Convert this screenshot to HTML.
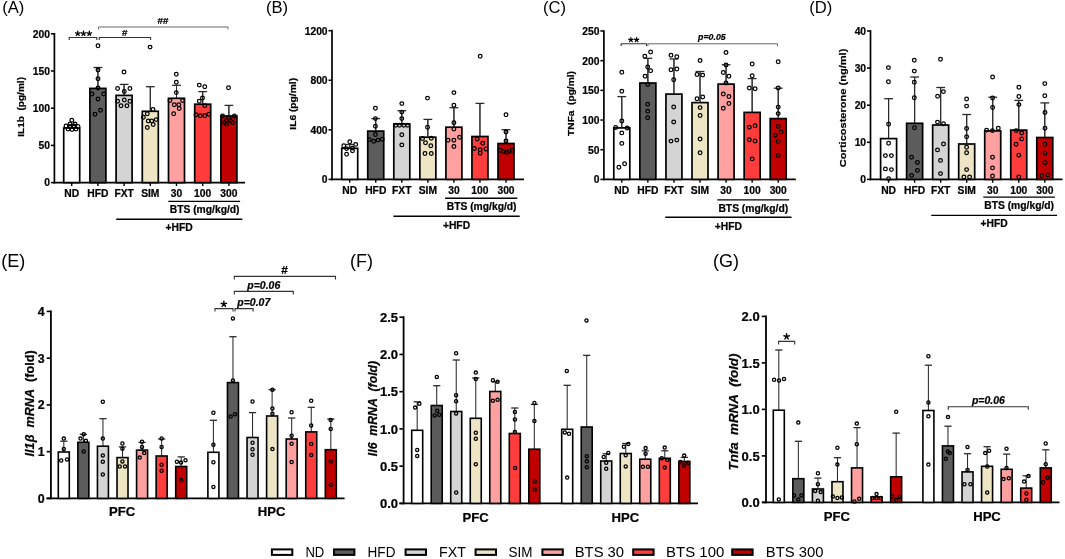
<!DOCTYPE html>
<html><head><meta charset="utf-8"><style>
html,body{margin:0;padding:0;background:#fff;overflow:hidden;}
svg{display:block;will-change:transform;filter:blur(0.3px);}
text{font-family:"Liberation Sans", sans-serif;}
text[font-weight="bold"]{stroke:#000;stroke-width:0.22px;}
</style></head><body>
<svg width="1065" height="559" viewBox="0 0 1065 559">
<rect width="1065" height="559" fill="#fff"/>
<text transform="translate(2.20 13.00) scale(1.06 1)" font-size="15.7" font-weight="normal" text-anchor="start" font-style="normal" fill="#000" >(A)</text>
<line x1="54.40" y1="183.45" x2="54.40" y2="32.95" stroke="#000" stroke-width="1.7"/>
<line x1="50.90" y1="182.60" x2="54.40" y2="182.60" stroke="#000" stroke-width="1.53"/>
<text transform="translate(50.00 186.46)" font-size="10.3" font-weight="bold" text-anchor="end" font-style="normal" fill="#000" >0</text>
<line x1="50.90" y1="145.40" x2="54.40" y2="145.40" stroke="#000" stroke-width="1.53"/>
<text transform="translate(50.00 149.26)" font-size="10.3" font-weight="bold" text-anchor="end" font-style="normal" fill="#000" >50</text>
<line x1="50.90" y1="108.20" x2="54.40" y2="108.20" stroke="#000" stroke-width="1.53"/>
<text transform="translate(50.00 112.06)" font-size="10.3" font-weight="bold" text-anchor="end" font-style="normal" fill="#000" >100</text>
<line x1="50.90" y1="71.00" x2="54.40" y2="71.00" stroke="#000" stroke-width="1.53"/>
<text transform="translate(50.00 74.86)" font-size="10.3" font-weight="bold" text-anchor="end" font-style="normal" fill="#000" >150</text>
<line x1="50.90" y1="33.80" x2="54.40" y2="33.80" stroke="#000" stroke-width="1.53"/>
<text transform="translate(50.00 37.66)" font-size="10.3" font-weight="bold" text-anchor="end" font-style="normal" fill="#000" >200</text>
<line x1="53.55" y1="182.60" x2="245.00" y2="182.60" stroke="#000" stroke-width="1.7"/>
<line x1="71.70" y1="182.60" x2="71.70" y2="186.00" stroke="#000" stroke-width="1.4"/>
<line x1="71.70" y1="128.00" x2="71.70" y2="125.20" stroke="#2a2a2a" stroke-width="1.05"/>
<line x1="67.30" y1="125.20" x2="76.10" y2="125.20" stroke="#2a2a2a" stroke-width="1.3"/>
<rect x="63.70" y="128.00" width="16.00" height="54.60" fill="#ffffff" stroke="#000" stroke-width="1.7"/>
<line x1="71.70" y1="127.20" x2="71.70" y2="125.20" stroke="#2a2a2a" stroke-width="1.05"/>
<line x1="97.90" y1="182.60" x2="97.90" y2="186.00" stroke="#000" stroke-width="1.4"/>
<line x1="97.90" y1="88.40" x2="97.90" y2="67.50" stroke="#2a2a2a" stroke-width="1.05"/>
<line x1="93.50" y1="67.50" x2="102.30" y2="67.50" stroke="#2a2a2a" stroke-width="1.3"/>
<rect x="89.90" y="88.40" width="16.00" height="94.20" fill="#5c5c5c" stroke="#000" stroke-width="1.7"/>
<line x1="97.90" y1="87.60" x2="97.90" y2="67.50" stroke="#2a2a2a" stroke-width="1.05"/>
<line x1="124.10" y1="182.60" x2="124.10" y2="186.00" stroke="#000" stroke-width="1.4"/>
<line x1="124.10" y1="95.40" x2="124.10" y2="84.40" stroke="#2a2a2a" stroke-width="1.05"/>
<line x1="119.70" y1="84.40" x2="128.50" y2="84.40" stroke="#2a2a2a" stroke-width="1.3"/>
<rect x="116.10" y="95.40" width="16.00" height="87.20" fill="#d4d4d4" stroke="#000" stroke-width="1.7"/>
<line x1="124.10" y1="94.60" x2="124.10" y2="84.40" stroke="#2a2a2a" stroke-width="1.05"/>
<line x1="150.30" y1="182.60" x2="150.30" y2="186.00" stroke="#000" stroke-width="1.4"/>
<line x1="150.30" y1="111.30" x2="150.30" y2="86.70" stroke="#2a2a2a" stroke-width="1.05"/>
<line x1="145.90" y1="86.70" x2="154.70" y2="86.70" stroke="#2a2a2a" stroke-width="1.3"/>
<rect x="142.30" y="111.30" width="16.00" height="71.30" fill="#eee5c5" stroke="#000" stroke-width="1.7"/>
<line x1="150.30" y1="110.50" x2="150.30" y2="86.70" stroke="#2a2a2a" stroke-width="1.05"/>
<line x1="176.50" y1="182.60" x2="176.50" y2="186.00" stroke="#000" stroke-width="1.4"/>
<line x1="176.50" y1="98.30" x2="176.50" y2="85.30" stroke="#2a2a2a" stroke-width="1.05"/>
<line x1="172.10" y1="85.30" x2="180.90" y2="85.30" stroke="#2a2a2a" stroke-width="1.3"/>
<rect x="168.50" y="98.30" width="16.00" height="84.30" fill="#ffa0a0" stroke="#000" stroke-width="1.7"/>
<line x1="176.50" y1="97.50" x2="176.50" y2="85.30" stroke="#2a2a2a" stroke-width="1.05"/>
<line x1="202.70" y1="182.60" x2="202.70" y2="186.00" stroke="#000" stroke-width="1.4"/>
<line x1="202.70" y1="104.20" x2="202.70" y2="91.60" stroke="#2a2a2a" stroke-width="1.05"/>
<line x1="198.30" y1="91.60" x2="207.10" y2="91.60" stroke="#2a2a2a" stroke-width="1.3"/>
<rect x="194.70" y="104.20" width="16.00" height="78.40" fill="#ff3d3d" stroke="#000" stroke-width="1.7"/>
<line x1="202.70" y1="103.40" x2="202.70" y2="91.60" stroke="#2a2a2a" stroke-width="1.05"/>
<line x1="228.90" y1="182.60" x2="228.90" y2="186.00" stroke="#000" stroke-width="1.4"/>
<line x1="228.90" y1="116.00" x2="228.90" y2="105.40" stroke="#2a2a2a" stroke-width="1.05"/>
<line x1="224.50" y1="105.40" x2="233.30" y2="105.40" stroke="#2a2a2a" stroke-width="1.3"/>
<rect x="220.90" y="116.00" width="16.00" height="66.60" fill="#c00000" stroke="#000" stroke-width="1.7"/>
<line x1="228.90" y1="115.20" x2="228.90" y2="105.40" stroke="#2a2a2a" stroke-width="1.05"/>
<circle cx="71.80" cy="120.20" r="1.85" fill="none" stroke="#000" stroke-width="1.25"/>
<circle cx="66.00" cy="126.00" r="1.85" fill="none" stroke="#000" stroke-width="1.25"/>
<circle cx="70.00" cy="126.50" r="1.85" fill="none" stroke="#000" stroke-width="1.25"/>
<circle cx="74.00" cy="126.00" r="1.85" fill="none" stroke="#000" stroke-width="1.25"/>
<circle cx="78.00" cy="126.50" r="1.85" fill="none" stroke="#000" stroke-width="1.25"/>
<circle cx="68.00" cy="129.00" r="1.85" fill="none" stroke="#000" stroke-width="1.25"/>
<circle cx="72.00" cy="129.50" r="1.85" fill="none" stroke="#000" stroke-width="1.25"/>
<circle cx="76.00" cy="129.00" r="1.85" fill="none" stroke="#000" stroke-width="1.25"/>
<circle cx="70.00" cy="124.00" r="1.85" fill="none" stroke="#000" stroke-width="1.25"/>
<circle cx="75.00" cy="124.00" r="1.85" fill="none" stroke="#000" stroke-width="1.25"/>
<circle cx="98.00" cy="45.70" r="1.85" fill="none" stroke="#000" stroke-width="1.25"/>
<circle cx="98.00" cy="70.00" r="1.85" fill="none" stroke="#000" stroke-width="1.25"/>
<circle cx="98.00" cy="78.80" r="1.85" fill="none" stroke="#000" stroke-width="1.25"/>
<circle cx="98.00" cy="88.00" r="1.85" fill="none" stroke="#000" stroke-width="1.25"/>
<circle cx="91.90" cy="94.00" r="1.85" fill="none" stroke="#000" stroke-width="1.25"/>
<circle cx="103.70" cy="94.00" r="1.85" fill="none" stroke="#000" stroke-width="1.25"/>
<circle cx="98.00" cy="98.90" r="1.85" fill="none" stroke="#000" stroke-width="1.25"/>
<circle cx="100.50" cy="110.30" r="1.85" fill="none" stroke="#000" stroke-width="1.25"/>
<circle cx="95.00" cy="114.30" r="1.85" fill="none" stroke="#000" stroke-width="1.25"/>
<circle cx="124.00" cy="72.00" r="1.85" fill="none" stroke="#000" stroke-width="1.25"/>
<circle cx="117.60" cy="88.50" r="1.85" fill="none" stroke="#000" stroke-width="1.25"/>
<circle cx="124.30" cy="91.40" r="1.85" fill="none" stroke="#000" stroke-width="1.25"/>
<circle cx="129.90" cy="88.50" r="1.85" fill="none" stroke="#000" stroke-width="1.25"/>
<circle cx="117.60" cy="101.30" r="1.85" fill="none" stroke="#000" stroke-width="1.25"/>
<circle cx="124.30" cy="99.90" r="1.85" fill="none" stroke="#000" stroke-width="1.25"/>
<circle cx="129.90" cy="101.30" r="1.85" fill="none" stroke="#000" stroke-width="1.25"/>
<circle cx="121.00" cy="105.80" r="1.85" fill="none" stroke="#000" stroke-width="1.25"/>
<circle cx="126.90" cy="105.80" r="1.85" fill="none" stroke="#000" stroke-width="1.25"/>
<circle cx="150.10" cy="47.10" r="1.85" fill="none" stroke="#000" stroke-width="1.25"/>
<circle cx="153.00" cy="109.40" r="1.85" fill="none" stroke="#000" stroke-width="1.25"/>
<circle cx="147.30" cy="113.70" r="1.85" fill="none" stroke="#000" stroke-width="1.25"/>
<circle cx="143.40" cy="117.20" r="1.85" fill="none" stroke="#000" stroke-width="1.25"/>
<circle cx="148.30" cy="121.00" r="1.85" fill="none" stroke="#000" stroke-width="1.25"/>
<circle cx="151.70" cy="121.00" r="1.85" fill="none" stroke="#000" stroke-width="1.25"/>
<circle cx="156.20" cy="119.60" r="1.85" fill="none" stroke="#000" stroke-width="1.25"/>
<circle cx="153.20" cy="124.50" r="1.85" fill="none" stroke="#000" stroke-width="1.25"/>
<circle cx="147.30" cy="127.50" r="1.85" fill="none" stroke="#000" stroke-width="1.25"/>
<circle cx="176.30" cy="74.30" r="1.85" fill="none" stroke="#000" stroke-width="1.25"/>
<circle cx="176.30" cy="82.20" r="1.85" fill="none" stroke="#000" stroke-width="1.25"/>
<circle cx="176.30" cy="92.60" r="1.85" fill="none" stroke="#000" stroke-width="1.25"/>
<circle cx="170.00" cy="100.50" r="1.85" fill="none" stroke="#000" stroke-width="1.25"/>
<circle cx="182.60" cy="100.50" r="1.85" fill="none" stroke="#000" stroke-width="1.25"/>
<circle cx="174.30" cy="104.80" r="1.85" fill="none" stroke="#000" stroke-width="1.25"/>
<circle cx="178.80" cy="104.80" r="1.85" fill="none" stroke="#000" stroke-width="1.25"/>
<circle cx="179.20" cy="108.40" r="1.85" fill="none" stroke="#000" stroke-width="1.25"/>
<circle cx="173.70" cy="113.70" r="1.85" fill="none" stroke="#000" stroke-width="1.25"/>
<circle cx="199.30" cy="85.10" r="1.85" fill="none" stroke="#000" stroke-width="1.25"/>
<circle cx="204.80" cy="86.70" r="1.85" fill="none" stroke="#000" stroke-width="1.25"/>
<circle cx="202.50" cy="97.90" r="1.85" fill="none" stroke="#000" stroke-width="1.25"/>
<circle cx="199.30" cy="101.30" r="1.85" fill="none" stroke="#000" stroke-width="1.25"/>
<circle cx="204.80" cy="105.80" r="1.85" fill="none" stroke="#000" stroke-width="1.25"/>
<circle cx="196.00" cy="114.70" r="1.85" fill="none" stroke="#000" stroke-width="1.25"/>
<circle cx="200.30" cy="115.70" r="1.85" fill="none" stroke="#000" stroke-width="1.25"/>
<circle cx="204.80" cy="115.70" r="1.85" fill="none" stroke="#000" stroke-width="1.25"/>
<circle cx="208.80" cy="114.30" r="1.85" fill="none" stroke="#000" stroke-width="1.25"/>
<circle cx="228.50" cy="87.70" r="1.85" fill="none" stroke="#000" stroke-width="1.25"/>
<circle cx="222.60" cy="116.00" r="1.85" fill="none" stroke="#000" stroke-width="1.25"/>
<circle cx="234.40" cy="116.00" r="1.85" fill="none" stroke="#000" stroke-width="1.25"/>
<circle cx="226.50" cy="120.60" r="1.85" fill="none" stroke="#000" stroke-width="1.25"/>
<circle cx="230.40" cy="120.60" r="1.85" fill="none" stroke="#000" stroke-width="1.25"/>
<circle cx="224.50" cy="122.60" r="1.85" fill="none" stroke="#000" stroke-width="1.25"/>
<circle cx="232.40" cy="122.60" r="1.85" fill="none" stroke="#000" stroke-width="1.25"/>
<circle cx="226.50" cy="124.10" r="1.85" fill="none" stroke="#000" stroke-width="1.25"/>
<circle cx="229.00" cy="118.00" r="1.85" fill="none" stroke="#000" stroke-width="1.25"/>
<text transform="translate(71.70 197.40)" font-size="10.3" font-weight="bold" text-anchor="middle" font-style="normal" fill="#000" >ND</text>
<text transform="translate(97.90 197.40)" font-size="10.3" font-weight="bold" text-anchor="middle" font-style="normal" fill="#000" >HFD</text>
<text transform="translate(124.10 197.40)" font-size="10.3" font-weight="bold" text-anchor="middle" font-style="normal" fill="#000" >FXT</text>
<text transform="translate(150.30 197.40)" font-size="10.3" font-weight="bold" text-anchor="middle" font-style="normal" fill="#000" >SIM</text>
<text transform="translate(176.50 197.40)" font-size="10.3" font-weight="bold" text-anchor="middle" font-style="normal" fill="#000" >30</text>
<text transform="translate(202.70 197.40)" font-size="10.3" font-weight="bold" text-anchor="middle" font-style="normal" fill="#000" >100</text>
<text transform="translate(228.90 197.40)" font-size="10.3" font-weight="bold" text-anchor="middle" font-style="normal" fill="#000" >300</text>
<line x1="168.30" y1="201.40" x2="240.10" y2="201.40" stroke="#000" stroke-width="1.4"/>
<text transform="translate(204.60 213.40)" font-size="10.3" font-weight="bold" text-anchor="middle" font-style="normal" fill="#000" >BTS (mg/kg/d)</text>
<line x1="116.20" y1="219.20" x2="242.30" y2="219.20" stroke="#000" stroke-width="1.4"/>
<text transform="translate(179.20 231.30)" font-size="10.3" font-weight="bold" text-anchor="middle" font-style="normal" fill="#000" >+HFD</text>
<text transform="translate(24.30 106.90) rotate(-90) scale(1.06 1)" font-size="9.8" font-weight="bold" text-anchor="middle" font-style="normal" fill="#000" textLength="56.42" lengthAdjust="spacingAndGlyphs" >IL1b&#160;&#160;(pg/ml)</text>
<path d="M69.20,39.90 V37.50 H96.80 V39.90" fill="none" stroke="#333" stroke-width="1.1"/>
<path d="M99.30,39.90 V37.50 H150.60 V39.90" fill="none" stroke="#333" stroke-width="1.1"/>
<path d="M98.50,29.40 V27.00 H228.00 V29.40" fill="none" stroke="#666" stroke-width="1.0"/>
<path d="M77.80,33.50 L77.80,31.15 M77.80,33.50 L80.03,32.77 M77.80,33.50 L79.18,35.40 M77.80,33.50 L76.42,35.40 M77.80,33.50 L75.57,32.77 " fill="none" stroke="#000" stroke-width="1.3" stroke-linecap="round"/>
<path d="M83.50,33.50 L83.50,31.15 M83.50,33.50 L85.73,32.77 M83.50,33.50 L84.88,35.40 M83.50,33.50 L82.12,35.40 M83.50,33.50 L81.27,32.77 " fill="none" stroke="#000" stroke-width="1.3" stroke-linecap="round"/>
<path d="M89.30,33.50 L89.30,31.15 M89.30,33.50 L91.53,32.77 M89.30,33.50 L90.68,35.40 M89.30,33.50 L87.92,35.40 M89.30,33.50 L87.07,32.77 " fill="none" stroke="#000" stroke-width="1.3" stroke-linecap="round"/>
<text transform="translate(124.60 36.10) scale(1.06 1)" font-size="9.2" font-weight="bold" text-anchor="middle" font-style="normal" fill="#000" >#</text>
<text transform="translate(163.00 24.30) scale(1.06 1)" font-size="9.2" font-weight="bold" text-anchor="middle" font-style="normal" fill="#000" >##</text>
<text transform="translate(266.00 13.00) scale(1.06 1)" font-size="15.7" font-weight="normal" text-anchor="start" font-style="normal" fill="#000" >(B)</text>
<line x1="332.00" y1="180.25" x2="332.00" y2="29.85" stroke="#000" stroke-width="1.7"/>
<line x1="328.50" y1="179.40" x2="332.00" y2="179.40" stroke="#000" stroke-width="1.53"/>
<text transform="translate(327.60 183.26)" font-size="10.3" font-weight="bold" text-anchor="end" font-style="normal" fill="#000" >0</text>
<line x1="328.50" y1="129.83" x2="332.00" y2="129.83" stroke="#000" stroke-width="1.53"/>
<text transform="translate(327.60 133.69)" font-size="10.3" font-weight="bold" text-anchor="end" font-style="normal" fill="#000" >400</text>
<line x1="328.50" y1="80.27" x2="332.00" y2="80.27" stroke="#000" stroke-width="1.53"/>
<text transform="translate(327.60 84.12)" font-size="10.3" font-weight="bold" text-anchor="end" font-style="normal" fill="#000" >800</text>
<line x1="328.50" y1="30.70" x2="332.00" y2="30.70" stroke="#000" stroke-width="1.53"/>
<text transform="translate(327.60 34.56)" font-size="10.3" font-weight="bold" text-anchor="end" font-style="normal" fill="#000" >1200</text>
<line x1="331.15" y1="179.40" x2="524.00" y2="179.40" stroke="#000" stroke-width="1.7"/>
<line x1="349.70" y1="179.40" x2="349.70" y2="182.80" stroke="#000" stroke-width="1.4"/>
<line x1="349.70" y1="148.30" x2="349.70" y2="144.50" stroke="#2a2a2a" stroke-width="1.05"/>
<line x1="345.30" y1="144.50" x2="354.10" y2="144.50" stroke="#2a2a2a" stroke-width="1.3"/>
<rect x="341.70" y="148.30" width="16.00" height="31.10" fill="#ffffff" stroke="#000" stroke-width="1.7"/>
<line x1="349.70" y1="147.50" x2="349.70" y2="144.50" stroke="#2a2a2a" stroke-width="1.05"/>
<line x1="375.75" y1="179.40" x2="375.75" y2="182.80" stroke="#000" stroke-width="1.4"/>
<line x1="375.75" y1="131.10" x2="375.75" y2="118.60" stroke="#2a2a2a" stroke-width="1.05"/>
<line x1="371.35" y1="118.60" x2="380.15" y2="118.60" stroke="#2a2a2a" stroke-width="1.3"/>
<rect x="367.75" y="131.10" width="16.00" height="48.30" fill="#5c5c5c" stroke="#000" stroke-width="1.7"/>
<line x1="375.75" y1="130.30" x2="375.75" y2="118.60" stroke="#2a2a2a" stroke-width="1.05"/>
<line x1="401.80" y1="179.40" x2="401.80" y2="182.80" stroke="#000" stroke-width="1.4"/>
<line x1="401.80" y1="124.00" x2="401.80" y2="110.70" stroke="#2a2a2a" stroke-width="1.05"/>
<line x1="397.40" y1="110.70" x2="406.20" y2="110.70" stroke="#2a2a2a" stroke-width="1.3"/>
<rect x="393.80" y="124.00" width="16.00" height="55.40" fill="#d4d4d4" stroke="#000" stroke-width="1.7"/>
<line x1="401.80" y1="123.20" x2="401.80" y2="110.70" stroke="#2a2a2a" stroke-width="1.05"/>
<line x1="427.85" y1="179.40" x2="427.85" y2="182.80" stroke="#000" stroke-width="1.4"/>
<line x1="427.85" y1="137.20" x2="427.85" y2="119.40" stroke="#2a2a2a" stroke-width="1.05"/>
<line x1="423.45" y1="119.40" x2="432.25" y2="119.40" stroke="#2a2a2a" stroke-width="1.3"/>
<rect x="419.85" y="137.20" width="16.00" height="42.20" fill="#eee5c5" stroke="#000" stroke-width="1.7"/>
<line x1="427.85" y1="136.40" x2="427.85" y2="119.40" stroke="#2a2a2a" stroke-width="1.05"/>
<line x1="453.90" y1="179.40" x2="453.90" y2="182.80" stroke="#000" stroke-width="1.4"/>
<line x1="453.90" y1="127.20" x2="453.90" y2="107.70" stroke="#2a2a2a" stroke-width="1.05"/>
<line x1="449.50" y1="107.70" x2="458.30" y2="107.70" stroke="#2a2a2a" stroke-width="1.3"/>
<rect x="445.90" y="127.20" width="16.00" height="52.20" fill="#ffa0a0" stroke="#000" stroke-width="1.7"/>
<line x1="453.90" y1="126.40" x2="453.90" y2="107.70" stroke="#2a2a2a" stroke-width="1.05"/>
<line x1="479.95" y1="179.40" x2="479.95" y2="182.80" stroke="#000" stroke-width="1.4"/>
<line x1="479.95" y1="136.50" x2="479.95" y2="103.40" stroke="#2a2a2a" stroke-width="1.05"/>
<line x1="475.55" y1="103.40" x2="484.35" y2="103.40" stroke="#2a2a2a" stroke-width="1.3"/>
<rect x="471.95" y="136.50" width="16.00" height="42.90" fill="#ff3d3d" stroke="#000" stroke-width="1.7"/>
<line x1="479.95" y1="135.70" x2="479.95" y2="103.40" stroke="#2a2a2a" stroke-width="1.05"/>
<line x1="506.00" y1="179.40" x2="506.00" y2="182.80" stroke="#000" stroke-width="1.4"/>
<line x1="506.00" y1="143.50" x2="506.00" y2="129.70" stroke="#2a2a2a" stroke-width="1.05"/>
<line x1="501.60" y1="129.70" x2="510.40" y2="129.70" stroke="#2a2a2a" stroke-width="1.3"/>
<rect x="498.00" y="143.50" width="16.00" height="35.90" fill="#c00000" stroke="#000" stroke-width="1.7"/>
<line x1="506.00" y1="142.70" x2="506.00" y2="129.70" stroke="#2a2a2a" stroke-width="1.05"/>
<circle cx="349.80" cy="141.80" r="1.85" fill="none" stroke="#000" stroke-width="1.25"/>
<circle cx="343.80" cy="145.70" r="1.85" fill="none" stroke="#000" stroke-width="1.25"/>
<circle cx="355.70" cy="144.40" r="1.85" fill="none" stroke="#000" stroke-width="1.25"/>
<circle cx="346.60" cy="148.60" r="1.85" fill="none" stroke="#000" stroke-width="1.25"/>
<circle cx="352.50" cy="148.10" r="1.85" fill="none" stroke="#000" stroke-width="1.25"/>
<circle cx="352.50" cy="150.70" r="1.85" fill="none" stroke="#000" stroke-width="1.25"/>
<circle cx="346.60" cy="154.20" r="1.85" fill="none" stroke="#000" stroke-width="1.25"/>
<circle cx="375.40" cy="108.20" r="1.85" fill="none" stroke="#000" stroke-width="1.25"/>
<circle cx="375.40" cy="118.60" r="1.85" fill="none" stroke="#000" stroke-width="1.25"/>
<circle cx="375.40" cy="126.20" r="1.85" fill="none" stroke="#000" stroke-width="1.25"/>
<circle cx="375.40" cy="134.50" r="1.85" fill="none" stroke="#000" stroke-width="1.25"/>
<circle cx="369.30" cy="139.60" r="1.85" fill="none" stroke="#000" stroke-width="1.25"/>
<circle cx="373.70" cy="141.30" r="1.85" fill="none" stroke="#000" stroke-width="1.25"/>
<circle cx="378.00" cy="140.10" r="1.85" fill="none" stroke="#000" stroke-width="1.25"/>
<circle cx="382.20" cy="139.30" r="1.85" fill="none" stroke="#000" stroke-width="1.25"/>
<circle cx="401.80" cy="103.60" r="1.85" fill="none" stroke="#000" stroke-width="1.25"/>
<circle cx="401.80" cy="112.10" r="1.85" fill="none" stroke="#000" stroke-width="1.25"/>
<circle cx="401.80" cy="118.60" r="1.85" fill="none" stroke="#000" stroke-width="1.25"/>
<circle cx="395.70" cy="125.30" r="1.85" fill="none" stroke="#000" stroke-width="1.25"/>
<circle cx="403.80" cy="125.30" r="1.85" fill="none" stroke="#000" stroke-width="1.25"/>
<circle cx="407.70" cy="125.30" r="1.85" fill="none" stroke="#000" stroke-width="1.25"/>
<circle cx="399.50" cy="125.30" r="1.85" fill="none" stroke="#000" stroke-width="1.25"/>
<circle cx="401.80" cy="134.70" r="1.85" fill="none" stroke="#000" stroke-width="1.25"/>
<circle cx="401.80" cy="144.90" r="1.85" fill="none" stroke="#000" stroke-width="1.25"/>
<circle cx="427.50" cy="98.10" r="1.85" fill="none" stroke="#000" stroke-width="1.25"/>
<circle cx="427.50" cy="127.20" r="1.85" fill="none" stroke="#000" stroke-width="1.25"/>
<circle cx="422.50" cy="138.50" r="1.85" fill="none" stroke="#000" stroke-width="1.25"/>
<circle cx="431.30" cy="138.20" r="1.85" fill="none" stroke="#000" stroke-width="1.25"/>
<circle cx="425.50" cy="142.70" r="1.85" fill="none" stroke="#000" stroke-width="1.25"/>
<circle cx="430.80" cy="145.80" r="1.85" fill="none" stroke="#000" stroke-width="1.25"/>
<circle cx="425.00" cy="153.50" r="1.85" fill="none" stroke="#000" stroke-width="1.25"/>
<circle cx="431.30" cy="153.50" r="1.85" fill="none" stroke="#000" stroke-width="1.25"/>
<circle cx="453.90" cy="92.60" r="1.85" fill="none" stroke="#000" stroke-width="1.25"/>
<circle cx="453.90" cy="105.20" r="1.85" fill="none" stroke="#000" stroke-width="1.25"/>
<circle cx="453.90" cy="122.70" r="1.85" fill="none" stroke="#000" stroke-width="1.25"/>
<circle cx="453.90" cy="129.00" r="1.85" fill="none" stroke="#000" stroke-width="1.25"/>
<circle cx="448.10" cy="140.20" r="1.85" fill="none" stroke="#000" stroke-width="1.25"/>
<circle cx="453.90" cy="140.20" r="1.85" fill="none" stroke="#000" stroke-width="1.25"/>
<circle cx="459.60" cy="137.20" r="1.85" fill="none" stroke="#000" stroke-width="1.25"/>
<circle cx="453.90" cy="146.50" r="1.85" fill="none" stroke="#000" stroke-width="1.25"/>
<circle cx="480.20" cy="56.30" r="1.85" fill="none" stroke="#000" stroke-width="1.25"/>
<circle cx="477.20" cy="139.00" r="1.85" fill="none" stroke="#000" stroke-width="1.25"/>
<circle cx="482.70" cy="143.20" r="1.85" fill="none" stroke="#000" stroke-width="1.25"/>
<circle cx="474.40" cy="148.50" r="1.85" fill="none" stroke="#000" stroke-width="1.25"/>
<circle cx="480.20" cy="149.80" r="1.85" fill="none" stroke="#000" stroke-width="1.25"/>
<circle cx="485.90" cy="149.00" r="1.85" fill="none" stroke="#000" stroke-width="1.25"/>
<circle cx="480.20" cy="153.30" r="1.85" fill="none" stroke="#000" stroke-width="1.25"/>
<circle cx="506.00" cy="114.70" r="1.85" fill="none" stroke="#000" stroke-width="1.25"/>
<circle cx="506.00" cy="132.00" r="1.85" fill="none" stroke="#000" stroke-width="1.25"/>
<circle cx="506.00" cy="141.00" r="1.85" fill="none" stroke="#000" stroke-width="1.25"/>
<circle cx="500.20" cy="150.30" r="1.85" fill="none" stroke="#000" stroke-width="1.25"/>
<circle cx="503.50" cy="151.50" r="1.85" fill="none" stroke="#000" stroke-width="1.25"/>
<circle cx="509.00" cy="151.50" r="1.85" fill="none" stroke="#000" stroke-width="1.25"/>
<circle cx="512.30" cy="150.30" r="1.85" fill="none" stroke="#000" stroke-width="1.25"/>
<circle cx="506.50" cy="152.30" r="1.85" fill="none" stroke="#000" stroke-width="1.25"/>
<text transform="translate(349.70 194.30)" font-size="10.3" font-weight="bold" text-anchor="middle" font-style="normal" fill="#000" >ND</text>
<text transform="translate(375.75 194.30)" font-size="10.3" font-weight="bold" text-anchor="middle" font-style="normal" fill="#000" >HFD</text>
<text transform="translate(401.80 194.30)" font-size="10.3" font-weight="bold" text-anchor="middle" font-style="normal" fill="#000" >FXT</text>
<text transform="translate(427.85 194.30)" font-size="10.3" font-weight="bold" text-anchor="middle" font-style="normal" fill="#000" >SIM</text>
<text transform="translate(453.90 194.30)" font-size="10.3" font-weight="bold" text-anchor="middle" font-style="normal" fill="#000" >30</text>
<text transform="translate(479.95 194.30)" font-size="10.3" font-weight="bold" text-anchor="middle" font-style="normal" fill="#000" >100</text>
<text transform="translate(506.00 194.30)" font-size="10.3" font-weight="bold" text-anchor="middle" font-style="normal" fill="#000" >300</text>
<line x1="445.10" y1="198.30" x2="517.30" y2="198.30" stroke="#000" stroke-width="1.4"/>
<text transform="translate(481.60 210.30)" font-size="10.3" font-weight="bold" text-anchor="middle" font-style="normal" fill="#000" >BTS (mg/kg/d)</text>
<line x1="393.40" y1="216.20" x2="519.70" y2="216.20" stroke="#000" stroke-width="1.4"/>
<text transform="translate(456.50 228.50)" font-size="10.3" font-weight="bold" text-anchor="middle" font-style="normal" fill="#000" >+HFD</text>
<text transform="translate(296.40 103.80) rotate(-90) scale(1.06 1)" font-size="9.8" font-weight="bold" text-anchor="middle" font-style="normal" fill="#000" textLength="48.77" lengthAdjust="spacingAndGlyphs" >IL6 (pg/ml)</text>
<text transform="translate(543.00 13.00) scale(1.06 1)" font-size="15.7" font-weight="normal" text-anchor="start" font-style="normal" fill="#000" >(C)</text>
<line x1="603.90" y1="180.25" x2="603.90" y2="30.15" stroke="#000" stroke-width="1.7"/>
<line x1="600.40" y1="179.40" x2="603.90" y2="179.40" stroke="#000" stroke-width="1.53"/>
<text transform="translate(599.50 183.26)" font-size="10.3" font-weight="bold" text-anchor="end" font-style="normal" fill="#000" >0</text>
<line x1="600.40" y1="149.72" x2="603.90" y2="149.72" stroke="#000" stroke-width="1.53"/>
<text transform="translate(599.50 153.58)" font-size="10.3" font-weight="bold" text-anchor="end" font-style="normal" fill="#000" >50</text>
<line x1="600.40" y1="120.04" x2="603.90" y2="120.04" stroke="#000" stroke-width="1.53"/>
<text transform="translate(599.50 123.90)" font-size="10.3" font-weight="bold" text-anchor="end" font-style="normal" fill="#000" >100</text>
<line x1="600.40" y1="90.36" x2="603.90" y2="90.36" stroke="#000" stroke-width="1.53"/>
<text transform="translate(599.50 94.22)" font-size="10.3" font-weight="bold" text-anchor="end" font-style="normal" fill="#000" >150</text>
<line x1="600.40" y1="60.68" x2="603.90" y2="60.68" stroke="#000" stroke-width="1.53"/>
<text transform="translate(599.50 64.54)" font-size="10.3" font-weight="bold" text-anchor="end" font-style="normal" fill="#000" >200</text>
<line x1="600.40" y1="31.00" x2="603.90" y2="31.00" stroke="#000" stroke-width="1.53"/>
<text transform="translate(599.50 34.86)" font-size="10.3" font-weight="bold" text-anchor="end" font-style="normal" fill="#000" >250</text>
<line x1="603.05" y1="179.40" x2="795.80" y2="179.40" stroke="#000" stroke-width="1.7"/>
<line x1="621.80" y1="179.40" x2="621.80" y2="182.80" stroke="#000" stroke-width="1.4"/>
<line x1="621.80" y1="127.90" x2="621.80" y2="96.60" stroke="#2a2a2a" stroke-width="1.05"/>
<line x1="617.40" y1="96.60" x2="626.20" y2="96.60" stroke="#2a2a2a" stroke-width="1.3"/>
<rect x="613.80" y="127.90" width="16.00" height="51.50" fill="#ffffff" stroke="#000" stroke-width="1.7"/>
<line x1="621.80" y1="127.10" x2="621.80" y2="96.60" stroke="#2a2a2a" stroke-width="1.05"/>
<line x1="647.87" y1="179.40" x2="647.87" y2="182.80" stroke="#000" stroke-width="1.4"/>
<line x1="647.87" y1="83.00" x2="647.87" y2="58.30" stroke="#2a2a2a" stroke-width="1.05"/>
<line x1="643.47" y1="58.30" x2="652.27" y2="58.30" stroke="#2a2a2a" stroke-width="1.3"/>
<rect x="639.87" y="83.00" width="16.00" height="96.40" fill="#5c5c5c" stroke="#000" stroke-width="1.7"/>
<line x1="647.87" y1="82.20" x2="647.87" y2="58.30" stroke="#2a2a2a" stroke-width="1.05"/>
<line x1="673.94" y1="179.40" x2="673.94" y2="182.80" stroke="#000" stroke-width="1.4"/>
<line x1="673.94" y1="94.10" x2="673.94" y2="59.00" stroke="#2a2a2a" stroke-width="1.05"/>
<line x1="669.54" y1="59.00" x2="678.34" y2="59.00" stroke="#2a2a2a" stroke-width="1.3"/>
<rect x="665.94" y="94.10" width="16.00" height="85.30" fill="#d4d4d4" stroke="#000" stroke-width="1.7"/>
<line x1="673.94" y1="93.30" x2="673.94" y2="59.00" stroke="#2a2a2a" stroke-width="1.05"/>
<line x1="700.01" y1="179.40" x2="700.01" y2="182.80" stroke="#000" stroke-width="1.4"/>
<line x1="700.01" y1="102.60" x2="700.01" y2="71.50" stroke="#2a2a2a" stroke-width="1.05"/>
<line x1="695.61" y1="71.50" x2="704.41" y2="71.50" stroke="#2a2a2a" stroke-width="1.3"/>
<rect x="692.01" y="102.60" width="16.00" height="76.80" fill="#eee5c5" stroke="#000" stroke-width="1.7"/>
<line x1="700.01" y1="101.80" x2="700.01" y2="71.50" stroke="#2a2a2a" stroke-width="1.05"/>
<line x1="726.08" y1="179.40" x2="726.08" y2="182.80" stroke="#000" stroke-width="1.4"/>
<line x1="726.08" y1="84.10" x2="726.08" y2="64.80" stroke="#2a2a2a" stroke-width="1.05"/>
<line x1="721.68" y1="64.80" x2="730.48" y2="64.80" stroke="#2a2a2a" stroke-width="1.3"/>
<rect x="718.08" y="84.10" width="16.00" height="95.30" fill="#ffa0a0" stroke="#000" stroke-width="1.7"/>
<line x1="726.08" y1="83.30" x2="726.08" y2="64.80" stroke="#2a2a2a" stroke-width="1.05"/>
<line x1="752.15" y1="179.40" x2="752.15" y2="182.80" stroke="#000" stroke-width="1.4"/>
<line x1="752.15" y1="112.40" x2="752.15" y2="78.60" stroke="#2a2a2a" stroke-width="1.05"/>
<line x1="747.75" y1="78.60" x2="756.55" y2="78.60" stroke="#2a2a2a" stroke-width="1.3"/>
<rect x="744.15" y="112.40" width="16.00" height="67.00" fill="#ff3d3d" stroke="#000" stroke-width="1.7"/>
<line x1="752.15" y1="111.60" x2="752.15" y2="78.60" stroke="#2a2a2a" stroke-width="1.05"/>
<line x1="778.22" y1="179.40" x2="778.22" y2="182.80" stroke="#000" stroke-width="1.4"/>
<line x1="778.22" y1="118.60" x2="778.22" y2="88.20" stroke="#2a2a2a" stroke-width="1.05"/>
<line x1="773.82" y1="88.20" x2="782.62" y2="88.20" stroke="#2a2a2a" stroke-width="1.3"/>
<rect x="770.22" y="118.60" width="16.00" height="60.80" fill="#c00000" stroke="#000" stroke-width="1.7"/>
<line x1="778.22" y1="117.80" x2="778.22" y2="88.20" stroke="#2a2a2a" stroke-width="1.05"/>
<circle cx="621.80" cy="72.20" r="1.85" fill="none" stroke="#000" stroke-width="1.25"/>
<circle cx="621.80" cy="91.30" r="1.85" fill="none" stroke="#000" stroke-width="1.25"/>
<circle cx="621.80" cy="120.90" r="1.85" fill="none" stroke="#000" stroke-width="1.25"/>
<circle cx="615.70" cy="127.50" r="1.85" fill="none" stroke="#000" stroke-width="1.25"/>
<circle cx="627.20" cy="127.90" r="1.85" fill="none" stroke="#000" stroke-width="1.25"/>
<circle cx="621.80" cy="132.90" r="1.85" fill="none" stroke="#000" stroke-width="1.25"/>
<circle cx="621.80" cy="143.40" r="1.85" fill="none" stroke="#000" stroke-width="1.25"/>
<circle cx="624.60" cy="163.70" r="1.85" fill="none" stroke="#000" stroke-width="1.25"/>
<circle cx="618.90" cy="167.30" r="1.85" fill="none" stroke="#000" stroke-width="1.25"/>
<circle cx="650.60" cy="51.90" r="1.85" fill="none" stroke="#000" stroke-width="1.25"/>
<circle cx="644.80" cy="56.20" r="1.85" fill="none" stroke="#000" stroke-width="1.25"/>
<circle cx="647.70" cy="66.90" r="1.85" fill="none" stroke="#000" stroke-width="1.25"/>
<circle cx="650.60" cy="70.80" r="1.85" fill="none" stroke="#000" stroke-width="1.25"/>
<circle cx="645.10" cy="76.20" r="1.85" fill="none" stroke="#000" stroke-width="1.25"/>
<circle cx="647.70" cy="84.40" r="1.85" fill="none" stroke="#000" stroke-width="1.25"/>
<circle cx="647.70" cy="104.20" r="1.85" fill="none" stroke="#000" stroke-width="1.25"/>
<circle cx="647.70" cy="111.20" r="1.85" fill="none" stroke="#000" stroke-width="1.25"/>
<circle cx="647.70" cy="117.80" r="1.85" fill="none" stroke="#000" stroke-width="1.25"/>
<circle cx="671.00" cy="55.30" r="1.85" fill="none" stroke="#000" stroke-width="1.25"/>
<circle cx="676.80" cy="56.70" r="1.85" fill="none" stroke="#000" stroke-width="1.25"/>
<circle cx="671.00" cy="69.80" r="1.85" fill="none" stroke="#000" stroke-width="1.25"/>
<circle cx="676.80" cy="68.90" r="1.85" fill="none" stroke="#000" stroke-width="1.25"/>
<circle cx="673.70" cy="79.80" r="1.85" fill="none" stroke="#000" stroke-width="1.25"/>
<circle cx="673.70" cy="106.90" r="1.85" fill="none" stroke="#000" stroke-width="1.25"/>
<circle cx="673.70" cy="121.90" r="1.85" fill="none" stroke="#000" stroke-width="1.25"/>
<circle cx="671.00" cy="141.10" r="1.85" fill="none" stroke="#000" stroke-width="1.25"/>
<circle cx="676.80" cy="140.10" r="1.85" fill="none" stroke="#000" stroke-width="1.25"/>
<circle cx="700.10" cy="60.50" r="1.85" fill="none" stroke="#000" stroke-width="1.25"/>
<circle cx="697.00" cy="74.40" r="1.85" fill="none" stroke="#000" stroke-width="1.25"/>
<circle cx="702.70" cy="75.10" r="1.85" fill="none" stroke="#000" stroke-width="1.25"/>
<circle cx="697.00" cy="98.70" r="1.85" fill="none" stroke="#000" stroke-width="1.25"/>
<circle cx="702.70" cy="96.90" r="1.85" fill="none" stroke="#000" stroke-width="1.25"/>
<circle cx="700.10" cy="107.60" r="1.85" fill="none" stroke="#000" stroke-width="1.25"/>
<circle cx="700.10" cy="115.50" r="1.85" fill="none" stroke="#000" stroke-width="1.25"/>
<circle cx="700.10" cy="139.00" r="1.85" fill="none" stroke="#000" stroke-width="1.25"/>
<circle cx="700.10" cy="152.70" r="1.85" fill="none" stroke="#000" stroke-width="1.25"/>
<circle cx="726.00" cy="52.50" r="1.85" fill="none" stroke="#000" stroke-width="1.25"/>
<circle cx="726.00" cy="65.00" r="1.85" fill="none" stroke="#000" stroke-width="1.25"/>
<circle cx="723.30" cy="72.50" r="1.85" fill="none" stroke="#000" stroke-width="1.25"/>
<circle cx="728.90" cy="76.20" r="1.85" fill="none" stroke="#000" stroke-width="1.25"/>
<circle cx="726.00" cy="82.90" r="1.85" fill="none" stroke="#000" stroke-width="1.25"/>
<circle cx="723.30" cy="94.00" r="1.85" fill="none" stroke="#000" stroke-width="1.25"/>
<circle cx="728.90" cy="96.50" r="1.85" fill="none" stroke="#000" stroke-width="1.25"/>
<circle cx="728.90" cy="103.40" r="1.85" fill="none" stroke="#000" stroke-width="1.25"/>
<circle cx="723.30" cy="108.30" r="1.85" fill="none" stroke="#000" stroke-width="1.25"/>
<circle cx="752.20" cy="63.90" r="1.85" fill="none" stroke="#000" stroke-width="1.25"/>
<circle cx="752.20" cy="75.80" r="1.85" fill="none" stroke="#000" stroke-width="1.25"/>
<circle cx="749.30" cy="87.90" r="1.85" fill="none" stroke="#000" stroke-width="1.25"/>
<circle cx="755.10" cy="88.70" r="1.85" fill="none" stroke="#000" stroke-width="1.25"/>
<circle cx="749.30" cy="127.20" r="1.85" fill="none" stroke="#000" stroke-width="1.25"/>
<circle cx="755.10" cy="125.70" r="1.85" fill="none" stroke="#000" stroke-width="1.25"/>
<circle cx="749.30" cy="139.80" r="1.85" fill="none" stroke="#000" stroke-width="1.25"/>
<circle cx="755.10" cy="141.00" r="1.85" fill="none" stroke="#000" stroke-width="1.25"/>
<circle cx="752.20" cy="158.90" r="1.85" fill="none" stroke="#000" stroke-width="1.25"/>
<circle cx="778.20" cy="61.80" r="1.85" fill="none" stroke="#000" stroke-width="1.25"/>
<circle cx="778.20" cy="87.90" r="1.85" fill="none" stroke="#000" stroke-width="1.25"/>
<circle cx="778.20" cy="107.10" r="1.85" fill="none" stroke="#000" stroke-width="1.25"/>
<circle cx="778.20" cy="113.60" r="1.85" fill="none" stroke="#000" stroke-width="1.25"/>
<circle cx="778.20" cy="126.50" r="1.85" fill="none" stroke="#000" stroke-width="1.25"/>
<circle cx="781.10" cy="131.90" r="1.85" fill="none" stroke="#000" stroke-width="1.25"/>
<circle cx="775.40" cy="135.30" r="1.85" fill="none" stroke="#000" stroke-width="1.25"/>
<circle cx="778.20" cy="141.50" r="1.85" fill="none" stroke="#000" stroke-width="1.25"/>
<circle cx="778.20" cy="155.40" r="1.85" fill="none" stroke="#000" stroke-width="1.25"/>
<text transform="translate(621.80 194.20)" font-size="10.3" font-weight="bold" text-anchor="middle" font-style="normal" fill="#000" >ND</text>
<text transform="translate(647.87 194.20)" font-size="10.3" font-weight="bold" text-anchor="middle" font-style="normal" fill="#000" >HFD</text>
<text transform="translate(673.94 194.20)" font-size="10.3" font-weight="bold" text-anchor="middle" font-style="normal" fill="#000" >FXT</text>
<text transform="translate(700.01 194.20)" font-size="10.3" font-weight="bold" text-anchor="middle" font-style="normal" fill="#000" >SIM</text>
<text transform="translate(726.08 194.20)" font-size="10.3" font-weight="bold" text-anchor="middle" font-style="normal" fill="#000" >30</text>
<text transform="translate(752.15 194.20)" font-size="10.3" font-weight="bold" text-anchor="middle" font-style="normal" fill="#000" >100</text>
<text transform="translate(778.22 194.20)" font-size="10.3" font-weight="bold" text-anchor="middle" font-style="normal" fill="#000" >300</text>
<line x1="717.30" y1="199.90" x2="789.20" y2="199.90" stroke="#000" stroke-width="1.4"/>
<text transform="translate(753.30 212.20)" font-size="10.3" font-weight="bold" text-anchor="middle" font-style="normal" fill="#000" >BTS (mg/kg/d)</text>
<line x1="665.20" y1="217.30" x2="791.50" y2="217.30" stroke="#000" stroke-width="1.4"/>
<text transform="translate(728.40 230.20)" font-size="10.3" font-weight="bold" text-anchor="middle" font-style="normal" fill="#000" >+HFD</text>
<text transform="translate(574.30 103.50) rotate(-90) scale(1.06 1)" font-size="9.8" font-weight="bold" text-anchor="middle" font-style="normal" fill="#000" textLength="61.13" lengthAdjust="spacingAndGlyphs" >TNFa&#160;&#160;(pg/ml)</text>
<path d="M621.20,46.10 V43.80 H646.60 V46.10" fill="none" stroke="#333" stroke-width="1.1"/>
<path d="M647.90,46.10 V43.80 H777.50 V46.10" fill="none" stroke="#666" stroke-width="1.0"/>
<path d="M630.90,39.80 L630.90,37.50 M630.90,39.80 L633.09,39.09 M630.90,39.80 L632.25,41.66 M630.90,39.80 L629.55,41.66 M630.90,39.80 L628.71,39.09 " fill="none" stroke="#000" stroke-width="1.25" stroke-linecap="round"/>
<path d="M636.60,39.80 L636.60,37.50 M636.60,39.80 L638.79,39.09 M636.60,39.80 L637.95,41.66 M636.60,39.80 L635.25,41.66 M636.60,39.80 L634.41,39.09 " fill="none" stroke="#000" stroke-width="1.25" stroke-linecap="round"/>
<text transform="translate(711.90 40.00) scale(1.06 1)" font-size="8.3" font-weight="bold" text-anchor="middle" font-style="italic" fill="#000" >p=0.05</text>
<text transform="translate(809.30 13.00) scale(1.06 1)" font-size="15.7" font-weight="normal" text-anchor="start" font-style="normal" fill="#000" >(D)</text>
<line x1="870.50" y1="180.25" x2="870.50" y2="30.15" stroke="#000" stroke-width="1.7"/>
<line x1="867.00" y1="179.40" x2="870.50" y2="179.40" stroke="#000" stroke-width="1.53"/>
<text transform="translate(866.10 183.26)" font-size="10.3" font-weight="bold" text-anchor="end" font-style="normal" fill="#000" >0</text>
<line x1="867.00" y1="142.30" x2="870.50" y2="142.30" stroke="#000" stroke-width="1.53"/>
<text transform="translate(866.10 146.16)" font-size="10.3" font-weight="bold" text-anchor="end" font-style="normal" fill="#000" >10</text>
<line x1="867.00" y1="105.20" x2="870.50" y2="105.20" stroke="#000" stroke-width="1.53"/>
<text transform="translate(866.10 109.06)" font-size="10.3" font-weight="bold" text-anchor="end" font-style="normal" fill="#000" >20</text>
<line x1="867.00" y1="68.10" x2="870.50" y2="68.10" stroke="#000" stroke-width="1.53"/>
<text transform="translate(866.10 71.96)" font-size="10.3" font-weight="bold" text-anchor="end" font-style="normal" fill="#000" >30</text>
<line x1="867.00" y1="31.00" x2="870.50" y2="31.00" stroke="#000" stroke-width="1.53"/>
<text transform="translate(866.10 34.86)" font-size="10.3" font-weight="bold" text-anchor="end" font-style="normal" fill="#000" >40</text>
<line x1="869.65" y1="179.40" x2="1062.50" y2="179.40" stroke="#000" stroke-width="1.7"/>
<line x1="888.60" y1="179.40" x2="888.60" y2="182.80" stroke="#000" stroke-width="1.4"/>
<line x1="888.60" y1="138.60" x2="888.60" y2="98.70" stroke="#2a2a2a" stroke-width="1.05"/>
<line x1="884.20" y1="98.70" x2="893.00" y2="98.70" stroke="#2a2a2a" stroke-width="1.3"/>
<rect x="880.60" y="138.60" width="16.00" height="40.80" fill="#ffffff" stroke="#000" stroke-width="1.7"/>
<line x1="888.60" y1="137.80" x2="888.60" y2="98.70" stroke="#2a2a2a" stroke-width="1.05"/>
<line x1="914.63" y1="179.40" x2="914.63" y2="182.80" stroke="#000" stroke-width="1.4"/>
<line x1="914.63" y1="123.30" x2="914.63" y2="77.00" stroke="#2a2a2a" stroke-width="1.05"/>
<line x1="910.23" y1="77.00" x2="919.03" y2="77.00" stroke="#2a2a2a" stroke-width="1.3"/>
<rect x="906.63" y="123.30" width="16.00" height="56.10" fill="#5c5c5c" stroke="#000" stroke-width="1.7"/>
<line x1="914.63" y1="122.50" x2="914.63" y2="77.00" stroke="#2a2a2a" stroke-width="1.05"/>
<line x1="940.66" y1="179.40" x2="940.66" y2="182.80" stroke="#000" stroke-width="1.4"/>
<line x1="940.66" y1="125.00" x2="940.66" y2="87.50" stroke="#2a2a2a" stroke-width="1.05"/>
<line x1="936.26" y1="87.50" x2="945.06" y2="87.50" stroke="#2a2a2a" stroke-width="1.3"/>
<rect x="932.66" y="125.00" width="16.00" height="54.40" fill="#d4d4d4" stroke="#000" stroke-width="1.7"/>
<line x1="940.66" y1="124.20" x2="940.66" y2="87.50" stroke="#2a2a2a" stroke-width="1.05"/>
<line x1="966.69" y1="179.40" x2="966.69" y2="182.80" stroke="#000" stroke-width="1.4"/>
<line x1="966.69" y1="144.00" x2="966.69" y2="114.50" stroke="#2a2a2a" stroke-width="1.05"/>
<line x1="962.29" y1="114.50" x2="971.09" y2="114.50" stroke="#2a2a2a" stroke-width="1.3"/>
<rect x="958.69" y="144.00" width="16.00" height="35.40" fill="#eee5c5" stroke="#000" stroke-width="1.7"/>
<line x1="966.69" y1="143.20" x2="966.69" y2="114.50" stroke="#2a2a2a" stroke-width="1.05"/>
<line x1="992.72" y1="179.40" x2="992.72" y2="182.80" stroke="#000" stroke-width="1.4"/>
<line x1="992.72" y1="130.90" x2="992.72" y2="97.20" stroke="#2a2a2a" stroke-width="1.05"/>
<line x1="988.32" y1="97.20" x2="997.12" y2="97.20" stroke="#2a2a2a" stroke-width="1.3"/>
<rect x="984.72" y="130.90" width="16.00" height="48.50" fill="#ffa0a0" stroke="#000" stroke-width="1.7"/>
<line x1="992.72" y1="130.10" x2="992.72" y2="97.20" stroke="#2a2a2a" stroke-width="1.05"/>
<line x1="1018.75" y1="179.40" x2="1018.75" y2="182.80" stroke="#000" stroke-width="1.4"/>
<line x1="1018.75" y1="130.10" x2="1018.75" y2="100.40" stroke="#2a2a2a" stroke-width="1.05"/>
<line x1="1014.35" y1="100.40" x2="1023.15" y2="100.40" stroke="#2a2a2a" stroke-width="1.3"/>
<rect x="1010.75" y="130.10" width="16.00" height="49.30" fill="#ff3d3d" stroke="#000" stroke-width="1.7"/>
<line x1="1018.75" y1="129.30" x2="1018.75" y2="100.40" stroke="#2a2a2a" stroke-width="1.05"/>
<line x1="1044.78" y1="179.40" x2="1044.78" y2="182.80" stroke="#000" stroke-width="1.4"/>
<line x1="1044.78" y1="137.50" x2="1044.78" y2="102.90" stroke="#2a2a2a" stroke-width="1.05"/>
<line x1="1040.38" y1="102.90" x2="1049.18" y2="102.90" stroke="#2a2a2a" stroke-width="1.3"/>
<rect x="1036.78" y="137.50" width="16.00" height="41.90" fill="#c00000" stroke="#000" stroke-width="1.7"/>
<line x1="1044.78" y1="136.70" x2="1044.78" y2="102.90" stroke="#2a2a2a" stroke-width="1.05"/>
<circle cx="888.40" cy="67.60" r="1.85" fill="none" stroke="#000" stroke-width="1.25"/>
<circle cx="888.40" cy="81.80" r="1.85" fill="none" stroke="#000" stroke-width="1.25"/>
<circle cx="888.60" cy="124.20" r="1.85" fill="none" stroke="#000" stroke-width="1.25"/>
<circle cx="888.60" cy="143.20" r="1.85" fill="none" stroke="#000" stroke-width="1.25"/>
<circle cx="885.40" cy="155.60" r="1.85" fill="none" stroke="#000" stroke-width="1.25"/>
<circle cx="891.40" cy="155.60" r="1.85" fill="none" stroke="#000" stroke-width="1.25"/>
<circle cx="885.40" cy="168.90" r="1.85" fill="none" stroke="#000" stroke-width="1.25"/>
<circle cx="891.40" cy="169.60" r="1.85" fill="none" stroke="#000" stroke-width="1.25"/>
<circle cx="888.60" cy="178.60" r="1.85" fill="none" stroke="#000" stroke-width="1.25"/>
<circle cx="914.30" cy="60.30" r="1.85" fill="none" stroke="#000" stroke-width="1.25"/>
<circle cx="914.30" cy="71.10" r="1.85" fill="none" stroke="#000" stroke-width="1.25"/>
<circle cx="914.30" cy="82.20" r="1.85" fill="none" stroke="#000" stroke-width="1.25"/>
<circle cx="914.30" cy="97.70" r="1.85" fill="none" stroke="#000" stroke-width="1.25"/>
<circle cx="914.50" cy="127.70" r="1.85" fill="none" stroke="#000" stroke-width="1.25"/>
<circle cx="911.60" cy="157.20" r="1.85" fill="none" stroke="#000" stroke-width="1.25"/>
<circle cx="917.40" cy="162.50" r="1.85" fill="none" stroke="#000" stroke-width="1.25"/>
<circle cx="917.40" cy="170.40" r="1.85" fill="none" stroke="#000" stroke-width="1.25"/>
<circle cx="911.60" cy="175.40" r="1.85" fill="none" stroke="#000" stroke-width="1.25"/>
<circle cx="940.50" cy="59.30" r="1.85" fill="none" stroke="#000" stroke-width="1.25"/>
<circle cx="943.40" cy="91.60" r="1.85" fill="none" stroke="#000" stroke-width="1.25"/>
<circle cx="937.60" cy="96.30" r="1.85" fill="none" stroke="#000" stroke-width="1.25"/>
<circle cx="937.50" cy="122.10" r="1.85" fill="none" stroke="#000" stroke-width="1.25"/>
<circle cx="943.50" cy="123.80" r="1.85" fill="none" stroke="#000" stroke-width="1.25"/>
<circle cx="943.50" cy="144.00" r="1.85" fill="none" stroke="#000" stroke-width="1.25"/>
<circle cx="937.50" cy="149.90" r="1.85" fill="none" stroke="#000" stroke-width="1.25"/>
<circle cx="940.50" cy="160.40" r="1.85" fill="none" stroke="#000" stroke-width="1.25"/>
<circle cx="940.50" cy="173.60" r="1.85" fill="none" stroke="#000" stroke-width="1.25"/>
<circle cx="966.60" cy="99.00" r="1.85" fill="none" stroke="#000" stroke-width="1.25"/>
<circle cx="966.60" cy="106.10" r="1.85" fill="none" stroke="#000" stroke-width="1.25"/>
<circle cx="966.60" cy="128.50" r="1.85" fill="none" stroke="#000" stroke-width="1.25"/>
<circle cx="966.60" cy="136.70" r="1.85" fill="none" stroke="#000" stroke-width="1.25"/>
<circle cx="966.60" cy="147.20" r="1.85" fill="none" stroke="#000" stroke-width="1.25"/>
<circle cx="966.60" cy="152.80" r="1.85" fill="none" stroke="#000" stroke-width="1.25"/>
<circle cx="966.60" cy="169.60" r="1.85" fill="none" stroke="#000" stroke-width="1.25"/>
<circle cx="963.90" cy="177.00" r="1.85" fill="none" stroke="#000" stroke-width="1.25"/>
<circle cx="969.60" cy="177.00" r="1.85" fill="none" stroke="#000" stroke-width="1.25"/>
<circle cx="992.60" cy="76.90" r="1.85" fill="none" stroke="#000" stroke-width="1.25"/>
<circle cx="992.60" cy="98.00" r="1.85" fill="none" stroke="#000" stroke-width="1.25"/>
<circle cx="992.60" cy="107.50" r="1.85" fill="none" stroke="#000" stroke-width="1.25"/>
<circle cx="986.60" cy="130.10" r="1.85" fill="none" stroke="#000" stroke-width="1.25"/>
<circle cx="992.40" cy="130.60" r="1.85" fill="none" stroke="#000" stroke-width="1.25"/>
<circle cx="998.30" cy="128.20" r="1.85" fill="none" stroke="#000" stroke-width="1.25"/>
<circle cx="992.50" cy="157.20" r="1.85" fill="none" stroke="#000" stroke-width="1.25"/>
<circle cx="992.50" cy="167.90" r="1.85" fill="none" stroke="#000" stroke-width="1.25"/>
<circle cx="992.50" cy="176.00" r="1.85" fill="none" stroke="#000" stroke-width="1.25"/>
<circle cx="1018.90" cy="87.20" r="1.85" fill="none" stroke="#000" stroke-width="1.25"/>
<circle cx="1018.90" cy="96.50" r="1.85" fill="none" stroke="#000" stroke-width="1.25"/>
<circle cx="1018.90" cy="104.60" r="1.85" fill="none" stroke="#000" stroke-width="1.25"/>
<circle cx="1016.10" cy="130.60" r="1.85" fill="none" stroke="#000" stroke-width="1.25"/>
<circle cx="1021.70" cy="133.00" r="1.85" fill="none" stroke="#000" stroke-width="1.25"/>
<circle cx="1021.70" cy="139.00" r="1.85" fill="none" stroke="#000" stroke-width="1.25"/>
<circle cx="1016.10" cy="144.30" r="1.85" fill="none" stroke="#000" stroke-width="1.25"/>
<circle cx="1018.80" cy="155.20" r="1.85" fill="none" stroke="#000" stroke-width="1.25"/>
<circle cx="1018.80" cy="177.00" r="1.85" fill="none" stroke="#000" stroke-width="1.25"/>
<circle cx="1044.80" cy="83.60" r="1.85" fill="none" stroke="#000" stroke-width="1.25"/>
<circle cx="1044.80" cy="95.80" r="1.85" fill="none" stroke="#000" stroke-width="1.25"/>
<circle cx="1045.00" cy="112.40" r="1.85" fill="none" stroke="#000" stroke-width="1.25"/>
<circle cx="1045.00" cy="128.20" r="1.85" fill="none" stroke="#000" stroke-width="1.25"/>
<circle cx="1045.00" cy="144.30" r="1.85" fill="none" stroke="#000" stroke-width="1.25"/>
<circle cx="1045.00" cy="153.10" r="1.85" fill="none" stroke="#000" stroke-width="1.25"/>
<circle cx="1045.00" cy="162.80" r="1.85" fill="none" stroke="#000" stroke-width="1.25"/>
<circle cx="1041.80" cy="175.70" r="1.85" fill="none" stroke="#000" stroke-width="1.25"/>
<circle cx="1047.80" cy="174.90" r="1.85" fill="none" stroke="#000" stroke-width="1.25"/>
<text transform="translate(888.60 194.20)" font-size="10.3" font-weight="bold" text-anchor="middle" font-style="normal" fill="#000" >ND</text>
<text transform="translate(914.63 194.20)" font-size="10.3" font-weight="bold" text-anchor="middle" font-style="normal" fill="#000" >HFD</text>
<text transform="translate(940.66 194.20)" font-size="10.3" font-weight="bold" text-anchor="middle" font-style="normal" fill="#000" >FXT</text>
<text transform="translate(966.69 194.20)" font-size="10.3" font-weight="bold" text-anchor="middle" font-style="normal" fill="#000" >SIM</text>
<text transform="translate(992.72 194.20)" font-size="10.3" font-weight="bold" text-anchor="middle" font-style="normal" fill="#000" >30</text>
<text transform="translate(1018.75 194.20)" font-size="10.3" font-weight="bold" text-anchor="middle" font-style="normal" fill="#000" >100</text>
<text transform="translate(1044.78 194.20)" font-size="10.3" font-weight="bold" text-anchor="middle" font-style="normal" fill="#000" >300</text>
<line x1="983.30" y1="197.10" x2="1054.90" y2="197.10" stroke="#000" stroke-width="1.4"/>
<text transform="translate(1019.10 209.40)" font-size="10.3" font-weight="bold" text-anchor="middle" font-style="normal" fill="#000" >BTS (mg/kg/d)</text>
<line x1="931.20" y1="215.40" x2="1057.00" y2="215.40" stroke="#000" stroke-width="1.4"/>
<text transform="translate(994.10 227.40)" font-size="10.3" font-weight="bold" text-anchor="middle" font-style="normal" fill="#000" >+HFD</text>
<text transform="translate(846.40 107.90) rotate(-90) scale(1.06 1)" font-size="9.8" font-weight="bold" text-anchor="middle" font-style="normal" fill="#000" textLength="111.79" lengthAdjust="spacingAndGlyphs" >Corticosterone (ng/ml)</text>
<text transform="translate(1.20 266.90)" font-size="18" font-weight="normal" text-anchor="start" font-style="normal" fill="#000" >(E)</text>
<line x1="50.90" y1="499.30" x2="50.90" y2="310.50" stroke="#000" stroke-width="1.8"/>
<line x1="46.70" y1="498.40" x2="50.90" y2="498.40" stroke="#000" stroke-width="1.62"/>
<text transform="translate(44.60 502.80)" font-size="12.4" font-weight="bold" text-anchor="end" font-style="normal" fill="#000" >0</text>
<line x1="46.70" y1="451.65" x2="50.90" y2="451.65" stroke="#000" stroke-width="1.62"/>
<text transform="translate(44.60 456.05)" font-size="12.4" font-weight="bold" text-anchor="end" font-style="normal" fill="#000" >1</text>
<line x1="46.70" y1="404.90" x2="50.90" y2="404.90" stroke="#000" stroke-width="1.62"/>
<text transform="translate(44.60 409.30)" font-size="12.4" font-weight="bold" text-anchor="end" font-style="normal" fill="#000" >2</text>
<line x1="46.70" y1="358.15" x2="50.90" y2="358.15" stroke="#000" stroke-width="1.62"/>
<text transform="translate(44.60 362.55)" font-size="12.4" font-weight="bold" text-anchor="end" font-style="normal" fill="#000" >3</text>
<line x1="46.70" y1="311.40" x2="50.90" y2="311.40" stroke="#000" stroke-width="1.62"/>
<text transform="translate(44.60 315.80)" font-size="12.4" font-weight="bold" text-anchor="end" font-style="normal" fill="#000" >4</text>
<line x1="46.50" y1="498.40" x2="344.60" y2="498.40" stroke="#000" stroke-width="1.8"/>
<line x1="63.80" y1="452.00" x2="63.80" y2="441.20" stroke="#2a2a2a" stroke-width="1.05"/>
<line x1="60.20" y1="441.20" x2="67.40" y2="441.20" stroke="#2a2a2a" stroke-width="1.3"/>
<rect x="58.30" y="452.00" width="11.00" height="46.40" fill="#ffffff" stroke="#000" stroke-width="1.6"/>
<line x1="83.37" y1="442.30" x2="83.37" y2="434.30" stroke="#2a2a2a" stroke-width="1.05"/>
<line x1="79.77" y1="434.30" x2="86.97" y2="434.30" stroke="#2a2a2a" stroke-width="1.3"/>
<rect x="77.87" y="442.30" width="11.00" height="56.10" fill="#5c5c5c" stroke="#000" stroke-width="1.6"/>
<line x1="102.94" y1="446.20" x2="102.94" y2="418.70" stroke="#2a2a2a" stroke-width="1.05"/>
<line x1="99.34" y1="418.70" x2="106.54" y2="418.70" stroke="#2a2a2a" stroke-width="1.3"/>
<rect x="97.44" y="446.20" width="11.00" height="52.20" fill="#d4d4d4" stroke="#000" stroke-width="1.6"/>
<line x1="122.51" y1="457.60" x2="122.51" y2="446.90" stroke="#2a2a2a" stroke-width="1.05"/>
<line x1="118.91" y1="446.90" x2="126.11" y2="446.90" stroke="#2a2a2a" stroke-width="1.3"/>
<rect x="117.01" y="457.60" width="11.00" height="40.80" fill="#eee5c5" stroke="#000" stroke-width="1.6"/>
<line x1="142.08" y1="450.10" x2="142.08" y2="442.40" stroke="#2a2a2a" stroke-width="1.05"/>
<line x1="138.48" y1="442.40" x2="145.68" y2="442.40" stroke="#2a2a2a" stroke-width="1.3"/>
<rect x="136.58" y="450.10" width="11.00" height="48.30" fill="#ffa0a0" stroke="#000" stroke-width="1.6"/>
<line x1="161.65" y1="456.00" x2="161.65" y2="439.00" stroke="#2a2a2a" stroke-width="1.05"/>
<line x1="158.05" y1="439.00" x2="165.25" y2="439.00" stroke="#2a2a2a" stroke-width="1.3"/>
<rect x="156.15" y="456.00" width="11.00" height="42.40" fill="#ff3d3d" stroke="#000" stroke-width="1.6"/>
<line x1="181.22" y1="466.50" x2="181.22" y2="456.90" stroke="#2a2a2a" stroke-width="1.05"/>
<line x1="177.62" y1="456.90" x2="184.82" y2="456.90" stroke="#2a2a2a" stroke-width="1.3"/>
<rect x="175.72" y="466.50" width="11.00" height="31.90" fill="#c00000" stroke="#000" stroke-width="1.6"/>
<line x1="213.40" y1="452.30" x2="213.40" y2="420.30" stroke="#2a2a2a" stroke-width="1.05"/>
<line x1="209.80" y1="420.30" x2="217.00" y2="420.30" stroke="#2a2a2a" stroke-width="1.3"/>
<rect x="207.90" y="452.30" width="11.00" height="46.10" fill="#ffffff" stroke="#000" stroke-width="1.6"/>
<line x1="232.97" y1="382.60" x2="232.97" y2="336.70" stroke="#2a2a2a" stroke-width="1.05"/>
<line x1="229.37" y1="336.70" x2="236.57" y2="336.70" stroke="#2a2a2a" stroke-width="1.3"/>
<rect x="227.47" y="382.60" width="11.00" height="115.80" fill="#5c5c5c" stroke="#000" stroke-width="1.6"/>
<line x1="252.54" y1="437.50" x2="252.54" y2="412.60" stroke="#2a2a2a" stroke-width="1.05"/>
<line x1="248.94" y1="412.60" x2="256.14" y2="412.60" stroke="#2a2a2a" stroke-width="1.3"/>
<rect x="247.04" y="437.50" width="11.00" height="60.90" fill="#d4d4d4" stroke="#000" stroke-width="1.6"/>
<line x1="272.11" y1="416.00" x2="272.11" y2="389.70" stroke="#2a2a2a" stroke-width="1.05"/>
<line x1="268.51" y1="389.70" x2="275.71" y2="389.70" stroke="#2a2a2a" stroke-width="1.3"/>
<rect x="266.61" y="416.00" width="11.00" height="82.40" fill="#eee5c5" stroke="#000" stroke-width="1.6"/>
<line x1="291.68" y1="439.00" x2="291.68" y2="418.00" stroke="#2a2a2a" stroke-width="1.05"/>
<line x1="288.08" y1="418.00" x2="295.28" y2="418.00" stroke="#2a2a2a" stroke-width="1.3"/>
<rect x="286.18" y="439.00" width="11.00" height="59.40" fill="#ffa0a0" stroke="#000" stroke-width="1.6"/>
<line x1="311.25" y1="431.90" x2="311.25" y2="407.30" stroke="#2a2a2a" stroke-width="1.05"/>
<line x1="307.65" y1="407.30" x2="314.85" y2="407.30" stroke="#2a2a2a" stroke-width="1.3"/>
<rect x="305.75" y="431.90" width="11.00" height="66.50" fill="#ff3d3d" stroke="#000" stroke-width="1.6"/>
<line x1="330.82" y1="449.70" x2="330.82" y2="419.10" stroke="#2a2a2a" stroke-width="1.05"/>
<line x1="327.22" y1="419.10" x2="334.42" y2="419.10" stroke="#2a2a2a" stroke-width="1.3"/>
<rect x="325.32" y="449.70" width="11.00" height="48.70" fill="#c00000" stroke="#000" stroke-width="1.6"/>
<circle cx="63.80" cy="438.60" r="1.6" fill="none" stroke="#000" stroke-width="1.3"/>
<circle cx="63.80" cy="448.90" r="1.6" fill="none" stroke="#000" stroke-width="1.3"/>
<circle cx="61.20" cy="460.50" r="1.6" fill="none" stroke="#000" stroke-width="1.3"/>
<circle cx="67.00" cy="459.50" r="1.6" fill="none" stroke="#000" stroke-width="1.3"/>
<circle cx="83.70" cy="434.30" r="1.6" fill="none" stroke="#000" stroke-width="1.3"/>
<circle cx="80.50" cy="438.60" r="1.6" fill="none" stroke="#000" stroke-width="1.3"/>
<circle cx="85.90" cy="440.80" r="1.6" fill="none" stroke="#000" stroke-width="1.3"/>
<circle cx="83.70" cy="451.50" r="1.6" fill="none" stroke="#000" stroke-width="1.3"/>
<circle cx="102.80" cy="401.70" r="1.6" fill="none" stroke="#000" stroke-width="1.3"/>
<circle cx="102.80" cy="438.60" r="1.6" fill="none" stroke="#000" stroke-width="1.3"/>
<circle cx="102.80" cy="455.40" r="1.6" fill="none" stroke="#000" stroke-width="1.3"/>
<circle cx="102.80" cy="461.80" r="1.6" fill="none" stroke="#000" stroke-width="1.3"/>
<circle cx="102.80" cy="474.50" r="1.6" fill="none" stroke="#000" stroke-width="1.3"/>
<circle cx="122.40" cy="443.50" r="1.6" fill="none" stroke="#000" stroke-width="1.3"/>
<circle cx="122.40" cy="448.70" r="1.6" fill="none" stroke="#000" stroke-width="1.3"/>
<circle cx="122.40" cy="461.40" r="1.6" fill="none" stroke="#000" stroke-width="1.3"/>
<circle cx="119.70" cy="466.50" r="1.6" fill="none" stroke="#000" stroke-width="1.3"/>
<circle cx="125.00" cy="466.50" r="1.6" fill="none" stroke="#000" stroke-width="1.3"/>
<circle cx="142.00" cy="441.70" r="1.6" fill="none" stroke="#000" stroke-width="1.3"/>
<circle cx="142.00" cy="446.90" r="1.6" fill="none" stroke="#000" stroke-width="1.3"/>
<circle cx="144.20" cy="453.10" r="1.6" fill="none" stroke="#000" stroke-width="1.3"/>
<circle cx="139.70" cy="457.60" r="1.6" fill="none" stroke="#000" stroke-width="1.3"/>
<circle cx="161.60" cy="438.50" r="1.6" fill="none" stroke="#000" stroke-width="1.3"/>
<circle cx="161.60" cy="446.90" r="1.6" fill="none" stroke="#000" stroke-width="1.3"/>
<circle cx="161.60" cy="464.80" r="1.6" fill="none" stroke="#000" stroke-width="1.3"/>
<circle cx="161.60" cy="470.70" r="1.6" fill="none" stroke="#000" stroke-width="1.3"/>
<circle cx="176.90" cy="461.70" r="1.6" fill="none" stroke="#000" stroke-width="1.3"/>
<circle cx="181.00" cy="462.60" r="1.6" fill="none" stroke="#000" stroke-width="1.3"/>
<circle cx="185.50" cy="460.30" r="1.6" fill="none" stroke="#000" stroke-width="1.3"/>
<circle cx="181.00" cy="480.10" r="1.6" fill="none" stroke="#000" stroke-width="1.3"/>
<circle cx="213.40" cy="412.80" r="1.6" fill="none" stroke="#000" stroke-width="1.3"/>
<circle cx="213.40" cy="444.80" r="1.6" fill="none" stroke="#000" stroke-width="1.3"/>
<circle cx="213.40" cy="462.20" r="1.6" fill="none" stroke="#000" stroke-width="1.3"/>
<circle cx="213.40" cy="486.90" r="1.6" fill="none" stroke="#000" stroke-width="1.3"/>
<circle cx="232.90" cy="318.40" r="1.6" fill="none" stroke="#000" stroke-width="1.3"/>
<circle cx="232.90" cy="380.50" r="1.6" fill="none" stroke="#000" stroke-width="1.3"/>
<circle cx="230.70" cy="416.50" r="1.6" fill="none" stroke="#000" stroke-width="1.3"/>
<circle cx="235.00" cy="414.30" r="1.6" fill="none" stroke="#000" stroke-width="1.3"/>
<circle cx="252.50" cy="401.50" r="1.6" fill="none" stroke="#000" stroke-width="1.3"/>
<circle cx="252.50" cy="442.70" r="1.6" fill="none" stroke="#000" stroke-width="1.3"/>
<circle cx="252.50" cy="449.30" r="1.6" fill="none" stroke="#000" stroke-width="1.3"/>
<circle cx="252.50" cy="454.70" r="1.6" fill="none" stroke="#000" stroke-width="1.3"/>
<circle cx="272.40" cy="389.70" r="1.6" fill="none" stroke="#000" stroke-width="1.3"/>
<circle cx="272.40" cy="408.50" r="1.6" fill="none" stroke="#000" stroke-width="1.3"/>
<circle cx="272.40" cy="413.70" r="1.6" fill="none" stroke="#000" stroke-width="1.3"/>
<circle cx="272.40" cy="449.10" r="1.6" fill="none" stroke="#000" stroke-width="1.3"/>
<circle cx="291.60" cy="412.20" r="1.6" fill="none" stroke="#000" stroke-width="1.3"/>
<circle cx="291.60" cy="435.80" r="1.6" fill="none" stroke="#000" stroke-width="1.3"/>
<circle cx="291.60" cy="443.70" r="1.6" fill="none" stroke="#000" stroke-width="1.3"/>
<circle cx="291.60" cy="462.00" r="1.6" fill="none" stroke="#000" stroke-width="1.3"/>
<circle cx="311.20" cy="400.80" r="1.6" fill="none" stroke="#000" stroke-width="1.3"/>
<circle cx="311.20" cy="425.50" r="1.6" fill="none" stroke="#000" stroke-width="1.3"/>
<circle cx="311.20" cy="444.00" r="1.6" fill="none" stroke="#000" stroke-width="1.3"/>
<circle cx="311.20" cy="455.10" r="1.6" fill="none" stroke="#000" stroke-width="1.3"/>
<circle cx="330.70" cy="420.10" r="1.6" fill="none" stroke="#000" stroke-width="1.3"/>
<circle cx="330.70" cy="428.90" r="1.6" fill="none" stroke="#000" stroke-width="1.3"/>
<circle cx="330.70" cy="461.50" r="1.6" fill="none" stroke="#000" stroke-width="1.3"/>
<circle cx="330.70" cy="484.70" r="1.6" fill="none" stroke="#000" stroke-width="1.3"/>
<text transform="translate(122.00 516.20)" font-size="13.1" font-weight="bold" text-anchor="middle" font-style="normal" fill="#000" >PFC</text>
<text transform="translate(271.70 516.20)" font-size="13.1" font-weight="bold" text-anchor="middle" font-style="normal" fill="#000" >HPC</text>
<text transform="translate(34.00 403.40) rotate(-90)" font-size="12.5" font-weight="bold" text-anchor="middle" font-style="normal" fill="#000" textLength="106.00" lengthAdjust="spacingAndGlyphs" ><tspan font-style="italic">Il1</tspan><tspan font-style="italic">β</tspan>&#160;&#160;<tspan font-style="italic">mRNA</tspan>&#160;&#160;(fold)</text>
<path d="M215.00,311.40 V308.60 H233.00 V311.40" fill="none" stroke="#333" stroke-width="1.1"/>
<path d="M235.00,311.40 V308.60 H253.10 V311.40" fill="none" stroke="#333" stroke-width="1.1"/>
<path d="M234.30,294.40 V291.40 H293.30 V294.40" fill="none" stroke="#333" stroke-width="1.1"/>
<path d="M234.30,279.40 V276.40 H335.50 V279.40" fill="none" stroke="#333" stroke-width="1.1"/>
<path d="M223.85,304.10 L223.85,301.30 M223.85,304.10 L226.51,303.23 M223.85,304.10 L225.50,306.37 M223.85,304.10 L222.20,306.37 M223.85,304.10 L221.19,303.23 " fill="none" stroke="#000" stroke-width="1.45" stroke-linecap="round"/>
<text transform="translate(253.80 306.20)" font-size="10.5" font-weight="bold" text-anchor="middle" font-style="italic" fill="#000" >p=0.07</text>
<text transform="translate(263.80 288.80)" font-size="10.5" font-weight="bold" text-anchor="middle" font-style="italic" fill="#000" >p=0.06</text>
<text transform="translate(284.60 273.80) scale(1.05 1)" font-size="11.2" font-weight="bold" text-anchor="middle" font-style="normal" fill="#000" >#</text>
<text transform="translate(350.00 266.80)" font-size="18" font-weight="normal" text-anchor="start" font-style="normal" fill="#000" >(F)</text>
<line x1="403.60" y1="504.30" x2="403.60" y2="316.30" stroke="#000" stroke-width="1.8"/>
<line x1="399.40" y1="503.40" x2="403.60" y2="503.40" stroke="#000" stroke-width="1.62"/>
<text transform="translate(398.10 508.01)" font-size="13.0" font-weight="bold" text-anchor="end" font-style="normal" fill="#000" >0.0</text>
<line x1="399.40" y1="466.16" x2="403.60" y2="466.16" stroke="#000" stroke-width="1.62"/>
<text transform="translate(398.10 470.77)" font-size="13.0" font-weight="bold" text-anchor="end" font-style="normal" fill="#000" >0.5</text>
<line x1="399.40" y1="428.92" x2="403.60" y2="428.92" stroke="#000" stroke-width="1.62"/>
<text transform="translate(398.10 433.53)" font-size="13.0" font-weight="bold" text-anchor="end" font-style="normal" fill="#000" >1.0</text>
<line x1="399.40" y1="391.68" x2="403.60" y2="391.68" stroke="#000" stroke-width="1.62"/>
<text transform="translate(398.10 396.30)" font-size="13.0" font-weight="bold" text-anchor="end" font-style="normal" fill="#000" >1.5</text>
<line x1="399.40" y1="354.44" x2="403.60" y2="354.44" stroke="#000" stroke-width="1.62"/>
<text transform="translate(398.10 359.06)" font-size="13.0" font-weight="bold" text-anchor="end" font-style="normal" fill="#000" >2.0</text>
<line x1="399.40" y1="317.20" x2="403.60" y2="317.20" stroke="#000" stroke-width="1.62"/>
<text transform="translate(398.10 321.81)" font-size="13.0" font-weight="bold" text-anchor="end" font-style="normal" fill="#000" >2.5</text>
<line x1="399.50" y1="503.40" x2="698.00" y2="503.40" stroke="#000" stroke-width="1.8"/>
<line x1="417.20" y1="430.30" x2="417.20" y2="401.80" stroke="#2a2a2a" stroke-width="1.05"/>
<line x1="413.60" y1="401.80" x2="420.80" y2="401.80" stroke="#2a2a2a" stroke-width="1.3"/>
<rect x="411.70" y="430.30" width="11.00" height="73.10" fill="#ffffff" stroke="#000" stroke-width="1.6"/>
<line x1="436.72" y1="405.50" x2="436.72" y2="385.70" stroke="#2a2a2a" stroke-width="1.05"/>
<line x1="433.12" y1="385.70" x2="440.32" y2="385.70" stroke="#2a2a2a" stroke-width="1.3"/>
<rect x="431.22" y="405.50" width="11.00" height="97.90" fill="#5c5c5c" stroke="#000" stroke-width="1.6"/>
<line x1="456.24" y1="411.50" x2="456.24" y2="360.00" stroke="#2a2a2a" stroke-width="1.05"/>
<line x1="452.64" y1="360.00" x2="459.84" y2="360.00" stroke="#2a2a2a" stroke-width="1.3"/>
<rect x="450.74" y="411.50" width="11.00" height="91.90" fill="#d4d4d4" stroke="#000" stroke-width="1.6"/>
<line x1="475.76" y1="418.30" x2="475.76" y2="378.00" stroke="#2a2a2a" stroke-width="1.05"/>
<line x1="472.16" y1="378.00" x2="479.36" y2="378.00" stroke="#2a2a2a" stroke-width="1.3"/>
<rect x="470.26" y="418.30" width="11.00" height="85.10" fill="#eee5c5" stroke="#000" stroke-width="1.6"/>
<line x1="495.28" y1="391.50" x2="495.28" y2="381.80" stroke="#2a2a2a" stroke-width="1.05"/>
<line x1="491.68" y1="381.80" x2="498.88" y2="381.80" stroke="#2a2a2a" stroke-width="1.3"/>
<rect x="489.78" y="391.50" width="11.00" height="111.90" fill="#ffa0a0" stroke="#000" stroke-width="1.6"/>
<line x1="514.80" y1="433.50" x2="514.80" y2="408.00" stroke="#2a2a2a" stroke-width="1.05"/>
<line x1="511.20" y1="408.00" x2="518.40" y2="408.00" stroke="#2a2a2a" stroke-width="1.3"/>
<rect x="509.30" y="433.50" width="11.00" height="69.90" fill="#ff3d3d" stroke="#000" stroke-width="1.6"/>
<line x1="534.32" y1="449.20" x2="534.32" y2="404.40" stroke="#2a2a2a" stroke-width="1.05"/>
<line x1="530.72" y1="404.40" x2="537.92" y2="404.40" stroke="#2a2a2a" stroke-width="1.3"/>
<rect x="528.82" y="449.20" width="11.00" height="54.20" fill="#c00000" stroke="#000" stroke-width="1.6"/>
<line x1="567.20" y1="429.30" x2="567.20" y2="385.30" stroke="#2a2a2a" stroke-width="1.05"/>
<line x1="563.60" y1="385.30" x2="570.80" y2="385.30" stroke="#2a2a2a" stroke-width="1.3"/>
<rect x="561.70" y="429.30" width="11.00" height="74.10" fill="#ffffff" stroke="#000" stroke-width="1.6"/>
<line x1="586.72" y1="427.00" x2="586.72" y2="355.40" stroke="#2a2a2a" stroke-width="1.05"/>
<line x1="583.12" y1="355.40" x2="590.32" y2="355.40" stroke="#2a2a2a" stroke-width="1.3"/>
<rect x="581.22" y="427.00" width="11.00" height="76.40" fill="#5c5c5c" stroke="#000" stroke-width="1.6"/>
<line x1="606.24" y1="461.00" x2="606.24" y2="453.80" stroke="#2a2a2a" stroke-width="1.05"/>
<line x1="602.64" y1="453.80" x2="609.84" y2="453.80" stroke="#2a2a2a" stroke-width="1.3"/>
<rect x="600.74" y="461.00" width="11.00" height="42.40" fill="#d4d4d4" stroke="#000" stroke-width="1.6"/>
<line x1="625.76" y1="453.50" x2="625.76" y2="443.50" stroke="#2a2a2a" stroke-width="1.05"/>
<line x1="622.16" y1="443.50" x2="629.36" y2="443.50" stroke="#2a2a2a" stroke-width="1.3"/>
<rect x="620.26" y="453.50" width="11.00" height="49.90" fill="#eee5c5" stroke="#000" stroke-width="1.6"/>
<line x1="645.28" y1="459.20" x2="645.28" y2="450.80" stroke="#2a2a2a" stroke-width="1.05"/>
<line x1="641.68" y1="450.80" x2="648.88" y2="450.80" stroke="#2a2a2a" stroke-width="1.3"/>
<rect x="639.78" y="459.20" width="11.00" height="44.20" fill="#ffa0a0" stroke="#000" stroke-width="1.6"/>
<line x1="664.80" y1="458.30" x2="664.80" y2="450.80" stroke="#2a2a2a" stroke-width="1.05"/>
<line x1="661.20" y1="450.80" x2="668.40" y2="450.80" stroke="#2a2a2a" stroke-width="1.3"/>
<rect x="659.30" y="458.30" width="11.00" height="45.10" fill="#ff3d3d" stroke="#000" stroke-width="1.6"/>
<line x1="684.32" y1="461.50" x2="684.32" y2="457.40" stroke="#2a2a2a" stroke-width="1.05"/>
<line x1="680.72" y1="457.40" x2="687.92" y2="457.40" stroke="#2a2a2a" stroke-width="1.3"/>
<rect x="678.82" y="461.50" width="11.00" height="41.90" fill="#c00000" stroke="#000" stroke-width="1.6"/>
<circle cx="415.10" cy="407.60" r="1.6" fill="none" stroke="#000" stroke-width="1.3"/>
<circle cx="419.40" cy="403.70" r="1.6" fill="none" stroke="#000" stroke-width="1.3"/>
<circle cx="417.20" cy="449.90" r="1.6" fill="none" stroke="#000" stroke-width="1.3"/>
<circle cx="417.20" cy="455.90" r="1.6" fill="none" stroke="#000" stroke-width="1.3"/>
<circle cx="436.80" cy="376.90" r="1.6" fill="none" stroke="#000" stroke-width="1.3"/>
<circle cx="434.60" cy="415.50" r="1.6" fill="none" stroke="#000" stroke-width="1.3"/>
<circle cx="437.20" cy="410.80" r="1.6" fill="none" stroke="#000" stroke-width="1.3"/>
<circle cx="439.30" cy="414.70" r="1.6" fill="none" stroke="#000" stroke-width="1.3"/>
<circle cx="456.10" cy="353.30" r="1.6" fill="none" stroke="#000" stroke-width="1.3"/>
<circle cx="456.10" cy="395.20" r="1.6" fill="none" stroke="#000" stroke-width="1.3"/>
<circle cx="456.10" cy="401.20" r="1.6" fill="none" stroke="#000" stroke-width="1.3"/>
<circle cx="456.10" cy="413.40" r="1.6" fill="none" stroke="#000" stroke-width="1.3"/>
<circle cx="456.20" cy="492.50" r="1.6" fill="none" stroke="#000" stroke-width="1.3"/>
<circle cx="475.80" cy="372.60" r="1.6" fill="none" stroke="#000" stroke-width="1.3"/>
<circle cx="475.80" cy="379.10" r="1.6" fill="none" stroke="#000" stroke-width="1.3"/>
<circle cx="475.80" cy="432.70" r="1.6" fill="none" stroke="#000" stroke-width="1.3"/>
<circle cx="475.80" cy="438.80" r="1.6" fill="none" stroke="#000" stroke-width="1.3"/>
<circle cx="475.80" cy="464.30" r="1.6" fill="none" stroke="#000" stroke-width="1.3"/>
<circle cx="492.90" cy="380.30" r="1.6" fill="none" stroke="#000" stroke-width="1.3"/>
<circle cx="497.60" cy="381.80" r="1.6" fill="none" stroke="#000" stroke-width="1.3"/>
<circle cx="492.90" cy="400.70" r="1.6" fill="none" stroke="#000" stroke-width="1.3"/>
<circle cx="497.60" cy="399.70" r="1.6" fill="none" stroke="#000" stroke-width="1.3"/>
<circle cx="514.90" cy="411.90" r="1.6" fill="none" stroke="#000" stroke-width="1.3"/>
<circle cx="514.90" cy="419.40" r="1.6" fill="none" stroke="#000" stroke-width="1.3"/>
<circle cx="514.90" cy="432.10" r="1.6" fill="none" stroke="#000" stroke-width="1.3"/>
<circle cx="515.10" cy="468.00" r="1.6" fill="none" stroke="#000" stroke-width="1.3"/>
<circle cx="534.40" cy="402.90" r="1.6" fill="none" stroke="#000" stroke-width="1.3"/>
<circle cx="534.40" cy="420.90" r="1.6" fill="none" stroke="#000" stroke-width="1.3"/>
<circle cx="534.70" cy="481.50" r="1.6" fill="none" stroke="#000" stroke-width="1.3"/>
<circle cx="534.70" cy="489.70" r="1.6" fill="none" stroke="#000" stroke-width="1.3"/>
<circle cx="566.80" cy="370.90" r="1.6" fill="none" stroke="#000" stroke-width="1.3"/>
<circle cx="564.80" cy="432.40" r="1.6" fill="none" stroke="#000" stroke-width="1.3"/>
<circle cx="569.00" cy="433.80" r="1.6" fill="none" stroke="#000" stroke-width="1.3"/>
<circle cx="567.20" cy="477.60" r="1.6" fill="none" stroke="#000" stroke-width="1.3"/>
<circle cx="586.50" cy="320.40" r="1.6" fill="none" stroke="#000" stroke-width="1.3"/>
<circle cx="586.80" cy="456.20" r="1.6" fill="none" stroke="#000" stroke-width="1.3"/>
<circle cx="586.80" cy="461.30" r="1.6" fill="none" stroke="#000" stroke-width="1.3"/>
<circle cx="586.80" cy="467.20" r="1.6" fill="none" stroke="#000" stroke-width="1.3"/>
<circle cx="603.70" cy="456.90" r="1.6" fill="none" stroke="#000" stroke-width="1.3"/>
<circle cx="608.30" cy="452.90" r="1.6" fill="none" stroke="#000" stroke-width="1.3"/>
<circle cx="606.20" cy="462.80" r="1.6" fill="none" stroke="#000" stroke-width="1.3"/>
<circle cx="606.20" cy="468.70" r="1.6" fill="none" stroke="#000" stroke-width="1.3"/>
<circle cx="623.90" cy="446.70" r="1.6" fill="none" stroke="#000" stroke-width="1.3"/>
<circle cx="628.30" cy="444.00" r="1.6" fill="none" stroke="#000" stroke-width="1.3"/>
<circle cx="625.70" cy="455.30" r="1.6" fill="none" stroke="#000" stroke-width="1.3"/>
<circle cx="625.70" cy="466.40" r="1.6" fill="none" stroke="#000" stroke-width="1.3"/>
<circle cx="645.60" cy="448.10" r="1.6" fill="none" stroke="#000" stroke-width="1.3"/>
<circle cx="645.60" cy="453.80" r="1.6" fill="none" stroke="#000" stroke-width="1.3"/>
<circle cx="642.90" cy="466.70" r="1.6" fill="none" stroke="#000" stroke-width="1.3"/>
<circle cx="647.90" cy="466.70" r="1.6" fill="none" stroke="#000" stroke-width="1.3"/>
<circle cx="664.70" cy="447.60" r="1.6" fill="none" stroke="#000" stroke-width="1.3"/>
<circle cx="661.80" cy="458.30" r="1.6" fill="none" stroke="#000" stroke-width="1.3"/>
<circle cx="667.20" cy="460.10" r="1.6" fill="none" stroke="#000" stroke-width="1.3"/>
<circle cx="664.70" cy="467.60" r="1.6" fill="none" stroke="#000" stroke-width="1.3"/>
<circle cx="684.20" cy="455.60" r="1.6" fill="none" stroke="#000" stroke-width="1.3"/>
<circle cx="680.40" cy="461.90" r="1.6" fill="none" stroke="#000" stroke-width="1.3"/>
<circle cx="688.10" cy="462.80" r="1.6" fill="none" stroke="#000" stroke-width="1.3"/>
<circle cx="684.20" cy="465.50" r="1.6" fill="none" stroke="#000" stroke-width="1.3"/>
<text transform="translate(475.50 521.60)" font-size="13.1" font-weight="bold" text-anchor="middle" font-style="normal" fill="#000" >PFC</text>
<text transform="translate(625.30 521.60)" font-size="13.1" font-weight="bold" text-anchor="middle" font-style="normal" fill="#000" >HPC</text>
<text transform="translate(376.50 408.50) rotate(-90)" font-size="12.5" font-weight="bold" text-anchor="middle" font-style="italic" fill="#000" textLength="95.30" lengthAdjust="spacingAndGlyphs" >Il6&#160;&#160;mRNA&#160;&#160;(fold)</text>
<text transform="translate(713.00 266.80)" font-size="18" font-weight="normal" text-anchor="start" font-style="normal" fill="#000" >(G)</text>
<line x1="766.00" y1="503.30" x2="766.00" y2="315.50" stroke="#000" stroke-width="1.8"/>
<line x1="761.80" y1="502.40" x2="766.00" y2="502.40" stroke="#000" stroke-width="1.62"/>
<text transform="translate(759.70 507.01)" font-size="13.0" font-weight="bold" text-anchor="end" font-style="normal" fill="#000" >0.0</text>
<line x1="761.80" y1="455.90" x2="766.00" y2="455.90" stroke="#000" stroke-width="1.62"/>
<text transform="translate(759.70 460.51)" font-size="13.0" font-weight="bold" text-anchor="end" font-style="normal" fill="#000" >0.5</text>
<line x1="761.80" y1="409.40" x2="766.00" y2="409.40" stroke="#000" stroke-width="1.62"/>
<text transform="translate(759.70 414.01)" font-size="13.0" font-weight="bold" text-anchor="end" font-style="normal" fill="#000" >1.0</text>
<line x1="761.80" y1="362.90" x2="766.00" y2="362.90" stroke="#000" stroke-width="1.62"/>
<text transform="translate(759.70 367.51)" font-size="13.0" font-weight="bold" text-anchor="end" font-style="normal" fill="#000" >1.5</text>
<line x1="761.80" y1="316.40" x2="766.00" y2="316.40" stroke="#000" stroke-width="1.62"/>
<text transform="translate(759.70 321.01)" font-size="13.0" font-weight="bold" text-anchor="end" font-style="normal" fill="#000" >2.0</text>
<line x1="762.00" y1="502.40" x2="1059.50" y2="502.40" stroke="#000" stroke-width="1.8"/>
<line x1="778.80" y1="410.20" x2="778.80" y2="350.00" stroke="#2a2a2a" stroke-width="1.05"/>
<line x1="775.20" y1="350.00" x2="782.40" y2="350.00" stroke="#2a2a2a" stroke-width="1.3"/>
<rect x="773.30" y="410.20" width="11.00" height="92.20" fill="#ffffff" stroke="#000" stroke-width="1.6"/>
<line x1="798.36" y1="478.70" x2="798.36" y2="441.30" stroke="#2a2a2a" stroke-width="1.05"/>
<line x1="794.76" y1="441.30" x2="801.96" y2="441.30" stroke="#2a2a2a" stroke-width="1.3"/>
<rect x="792.86" y="478.70" width="11.00" height="23.70" fill="#5c5c5c" stroke="#000" stroke-width="1.6"/>
<line x1="817.92" y1="489.00" x2="817.92" y2="478.10" stroke="#2a2a2a" stroke-width="1.05"/>
<line x1="814.32" y1="478.10" x2="821.52" y2="478.10" stroke="#2a2a2a" stroke-width="1.3"/>
<rect x="812.42" y="489.00" width="11.00" height="13.40" fill="#d4d4d4" stroke="#000" stroke-width="1.6"/>
<line x1="837.48" y1="481.70" x2="837.48" y2="457.70" stroke="#2a2a2a" stroke-width="1.05"/>
<line x1="833.88" y1="457.70" x2="841.08" y2="457.70" stroke="#2a2a2a" stroke-width="1.3"/>
<rect x="831.98" y="481.70" width="11.00" height="20.70" fill="#eee5c5" stroke="#000" stroke-width="1.6"/>
<line x1="857.04" y1="467.90" x2="857.04" y2="427.60" stroke="#2a2a2a" stroke-width="1.05"/>
<line x1="853.44" y1="427.60" x2="860.64" y2="427.60" stroke="#2a2a2a" stroke-width="1.3"/>
<rect x="851.54" y="467.90" width="11.00" height="34.50" fill="#ffa0a0" stroke="#000" stroke-width="1.6"/>
<rect x="871.10" y="496.90" width="11.00" height="5.50" fill="#ff3d3d" stroke="#000" stroke-width="1.6"/>
<line x1="896.16" y1="476.80" x2="896.16" y2="433.10" stroke="#2a2a2a" stroke-width="1.05"/>
<line x1="892.56" y1="433.10" x2="899.76" y2="433.10" stroke="#2a2a2a" stroke-width="1.3"/>
<rect x="890.66" y="476.80" width="11.00" height="25.60" fill="#c00000" stroke="#000" stroke-width="1.6"/>
<line x1="928.40" y1="410.50" x2="928.40" y2="365.20" stroke="#2a2a2a" stroke-width="1.05"/>
<line x1="924.80" y1="365.20" x2="932.00" y2="365.20" stroke="#2a2a2a" stroke-width="1.3"/>
<rect x="922.90" y="410.50" width="11.00" height="91.90" fill="#ffffff" stroke="#000" stroke-width="1.6"/>
<line x1="947.96" y1="445.90" x2="947.96" y2="426.20" stroke="#2a2a2a" stroke-width="1.05"/>
<line x1="944.36" y1="426.20" x2="951.56" y2="426.20" stroke="#2a2a2a" stroke-width="1.3"/>
<rect x="942.46" y="445.90" width="11.00" height="56.50" fill="#5c5c5c" stroke="#000" stroke-width="1.6"/>
<line x1="967.52" y1="471.90" x2="967.52" y2="453.70" stroke="#2a2a2a" stroke-width="1.05"/>
<line x1="963.92" y1="453.70" x2="971.12" y2="453.70" stroke="#2a2a2a" stroke-width="1.3"/>
<rect x="962.02" y="471.90" width="11.00" height="30.50" fill="#d4d4d4" stroke="#000" stroke-width="1.6"/>
<line x1="987.08" y1="466.30" x2="987.08" y2="446.70" stroke="#2a2a2a" stroke-width="1.05"/>
<line x1="983.48" y1="446.70" x2="990.68" y2="446.70" stroke="#2a2a2a" stroke-width="1.3"/>
<rect x="981.58" y="466.30" width="11.00" height="36.10" fill="#eee5c5" stroke="#000" stroke-width="1.6"/>
<line x1="1006.64" y1="469.30" x2="1006.64" y2="454.10" stroke="#2a2a2a" stroke-width="1.05"/>
<line x1="1003.04" y1="454.10" x2="1010.24" y2="454.10" stroke="#2a2a2a" stroke-width="1.3"/>
<rect x="1001.14" y="469.30" width="11.00" height="33.10" fill="#ffa0a0" stroke="#000" stroke-width="1.6"/>
<line x1="1026.20" y1="488.10" x2="1026.20" y2="475.80" stroke="#2a2a2a" stroke-width="1.05"/>
<line x1="1022.60" y1="475.80" x2="1029.80" y2="475.80" stroke="#2a2a2a" stroke-width="1.3"/>
<rect x="1020.70" y="488.10" width="11.00" height="14.30" fill="#ff3d3d" stroke="#000" stroke-width="1.6"/>
<line x1="1045.76" y1="467.90" x2="1045.76" y2="449.80" stroke="#2a2a2a" stroke-width="1.05"/>
<line x1="1042.16" y1="449.80" x2="1049.36" y2="449.80" stroke="#2a2a2a" stroke-width="1.3"/>
<rect x="1040.26" y="467.90" width="11.00" height="34.50" fill="#c00000" stroke="#000" stroke-width="1.6"/>
<circle cx="774.10" cy="379.80" r="1.6" fill="none" stroke="#000" stroke-width="1.3"/>
<circle cx="779.00" cy="380.50" r="1.6" fill="none" stroke="#000" stroke-width="1.3"/>
<circle cx="784.00" cy="379.00" r="1.6" fill="none" stroke="#000" stroke-width="1.3"/>
<circle cx="778.80" cy="499.40" r="1.6" fill="none" stroke="#000" stroke-width="1.3"/>
<circle cx="798.30" cy="422.60" r="1.6" fill="none" stroke="#000" stroke-width="1.3"/>
<circle cx="794.10" cy="495.50" r="1.6" fill="none" stroke="#000" stroke-width="1.3"/>
<circle cx="801.40" cy="495.50" r="1.6" fill="none" stroke="#000" stroke-width="1.3"/>
<circle cx="798.30" cy="499.40" r="1.6" fill="none" stroke="#000" stroke-width="1.3"/>
<circle cx="817.90" cy="473.20" r="1.6" fill="none" stroke="#000" stroke-width="1.3"/>
<circle cx="817.90" cy="484.30" r="1.6" fill="none" stroke="#000" stroke-width="1.3"/>
<circle cx="815.20" cy="490.90" r="1.6" fill="none" stroke="#000" stroke-width="1.3"/>
<circle cx="820.70" cy="492.10" r="1.6" fill="none" stroke="#000" stroke-width="1.3"/>
<circle cx="817.90" cy="500.80" r="1.6" fill="none" stroke="#000" stroke-width="1.3"/>
<circle cx="837.40" cy="447.80" r="1.6" fill="none" stroke="#000" stroke-width="1.3"/>
<circle cx="837.40" cy="464.60" r="1.6" fill="none" stroke="#000" stroke-width="1.3"/>
<circle cx="832.90" cy="496.50" r="1.6" fill="none" stroke="#000" stroke-width="1.3"/>
<circle cx="837.40" cy="498.00" r="1.6" fill="none" stroke="#000" stroke-width="1.3"/>
<circle cx="841.80" cy="497.40" r="1.6" fill="none" stroke="#000" stroke-width="1.3"/>
<circle cx="856.80" cy="423.60" r="1.6" fill="none" stroke="#000" stroke-width="1.3"/>
<circle cx="856.80" cy="444.30" r="1.6" fill="none" stroke="#000" stroke-width="1.3"/>
<circle cx="859.20" cy="498.80" r="1.6" fill="none" stroke="#000" stroke-width="1.3"/>
<circle cx="854.40" cy="501.40" r="1.6" fill="none" stroke="#000" stroke-width="1.3"/>
<circle cx="876.50" cy="494.10" r="1.6" fill="none" stroke="#000" stroke-width="1.3"/>
<circle cx="872.60" cy="498.00" r="1.6" fill="none" stroke="#000" stroke-width="1.3"/>
<circle cx="876.50" cy="498.00" r="1.6" fill="none" stroke="#000" stroke-width="1.3"/>
<circle cx="880.40" cy="498.00" r="1.6" fill="none" stroke="#000" stroke-width="1.3"/>
<circle cx="896.20" cy="411.80" r="1.6" fill="none" stroke="#000" stroke-width="1.3"/>
<circle cx="892.20" cy="496.50" r="1.6" fill="none" stroke="#000" stroke-width="1.3"/>
<circle cx="899.70" cy="496.90" r="1.6" fill="none" stroke="#000" stroke-width="1.3"/>
<circle cx="896.20" cy="500.00" r="1.6" fill="none" stroke="#000" stroke-width="1.3"/>
<circle cx="928.40" cy="356.30" r="1.6" fill="none" stroke="#000" stroke-width="1.3"/>
<circle cx="928.40" cy="402.40" r="1.6" fill="none" stroke="#000" stroke-width="1.3"/>
<circle cx="928.40" cy="416.20" r="1.6" fill="none" stroke="#000" stroke-width="1.3"/>
<circle cx="928.40" cy="464.60" r="1.6" fill="none" stroke="#000" stroke-width="1.3"/>
<circle cx="948.00" cy="417.10" r="1.6" fill="none" stroke="#000" stroke-width="1.3"/>
<circle cx="947.80" cy="451.60" r="1.6" fill="none" stroke="#000" stroke-width="1.3"/>
<circle cx="949.80" cy="453.10" r="1.6" fill="none" stroke="#000" stroke-width="1.3"/>
<circle cx="945.80" cy="458.70" r="1.6" fill="none" stroke="#000" stroke-width="1.3"/>
<circle cx="967.50" cy="446.90" r="1.6" fill="none" stroke="#000" stroke-width="1.3"/>
<circle cx="967.50" cy="469.90" r="1.6" fill="none" stroke="#000" stroke-width="1.3"/>
<circle cx="964.50" cy="484.30" r="1.6" fill="none" stroke="#000" stroke-width="1.3"/>
<circle cx="970.40" cy="484.30" r="1.6" fill="none" stroke="#000" stroke-width="1.3"/>
<circle cx="985.20" cy="453.10" r="1.6" fill="none" stroke="#000" stroke-width="1.3"/>
<circle cx="989.10" cy="450.80" r="1.6" fill="none" stroke="#000" stroke-width="1.3"/>
<circle cx="987.20" cy="466.50" r="1.6" fill="none" stroke="#000" stroke-width="1.3"/>
<circle cx="987.20" cy="492.50" r="1.6" fill="none" stroke="#000" stroke-width="1.3"/>
<circle cx="1006.50" cy="448.80" r="1.6" fill="none" stroke="#000" stroke-width="1.3"/>
<circle cx="1006.50" cy="467.90" r="1.6" fill="none" stroke="#000" stroke-width="1.3"/>
<circle cx="1003.50" cy="479.10" r="1.6" fill="none" stroke="#000" stroke-width="1.3"/>
<circle cx="1008.80" cy="478.30" r="1.6" fill="none" stroke="#000" stroke-width="1.3"/>
<circle cx="1024.10" cy="481.60" r="1.6" fill="none" stroke="#000" stroke-width="1.3"/>
<circle cx="1028.50" cy="476.00" r="1.6" fill="none" stroke="#000" stroke-width="1.3"/>
<circle cx="1026.40" cy="493.50" r="1.6" fill="none" stroke="#000" stroke-width="1.3"/>
<circle cx="1026.40" cy="499.80" r="1.6" fill="none" stroke="#000" stroke-width="1.3"/>
<circle cx="1045.70" cy="443.50" r="1.6" fill="none" stroke="#000" stroke-width="1.3"/>
<circle cx="1045.70" cy="464.20" r="1.6" fill="none" stroke="#000" stroke-width="1.3"/>
<circle cx="1047.80" cy="477.70" r="1.6" fill="none" stroke="#000" stroke-width="1.3"/>
<circle cx="1043.10" cy="482.30" r="1.6" fill="none" stroke="#000" stroke-width="1.3"/>
<text transform="translate(836.80 520.70)" font-size="13.1" font-weight="bold" text-anchor="middle" font-style="normal" fill="#000" >PFC</text>
<text transform="translate(987.00 520.70)" font-size="13.1" font-weight="bold" text-anchor="middle" font-style="normal" fill="#000" >HPC</text>
<text transform="translate(738.40 412.00) rotate(-90)" font-size="12.5" font-weight="bold" text-anchor="middle" font-style="italic" fill="#000" textLength="116.80" lengthAdjust="spacingAndGlyphs" >Tnfa&#160;&#160;mRNA&#160;&#160;(fold)</text>
<path d="M778.60,344.40 V341.40 H794.70 V344.40" fill="none" stroke="#333" stroke-width="1.1"/>
<path d="M786.60,336.60 L786.60,333.80 M786.60,336.60 L789.26,335.73 M786.60,336.60 L788.25,338.87 M786.60,336.60 L784.95,338.87 M786.60,336.60 L783.94,335.73 " fill="none" stroke="#000" stroke-width="1.45" stroke-linecap="round"/>
<path d="M948.30,409.80 V406.80 H1028.30 V409.80" fill="none" stroke="#333" stroke-width="1.1"/>
<text transform="translate(988.40 403.80)" font-size="10.5" font-weight="bold" text-anchor="middle" font-style="italic" fill="#000" >p=0.06</text>
<rect x="271.90" y="549.40" width="20.40" height="5.50" fill="#ffffff" stroke="#000" stroke-width="2.0"/>
<text transform="translate(305.40 556.60)" font-size="13.8" font-weight="normal" text-anchor="start" font-style="normal" fill="#000" textLength="18.90" lengthAdjust="spacingAndGlyphs" >ND</text>
<rect x="334.00" y="549.40" width="20.40" height="5.50" fill="#5c5c5c" stroke="#000" stroke-width="2.0"/>
<text transform="translate(367.60 556.60)" font-size="13.8" font-weight="normal" text-anchor="start" font-style="normal" fill="#000" textLength="27.80" lengthAdjust="spacingAndGlyphs" >HFD</text>
<rect x="405.60" y="549.40" width="20.40" height="5.50" fill="#d4d4d4" stroke="#000" stroke-width="2.0"/>
<text transform="translate(439.10 556.60)" font-size="13.8" font-weight="normal" text-anchor="start" font-style="normal" fill="#000" textLength="26.90" lengthAdjust="spacingAndGlyphs" >FXT</text>
<rect x="475.60" y="549.40" width="20.40" height="5.50" fill="#eee5c5" stroke="#000" stroke-width="2.0"/>
<text transform="translate(508.60 556.60)" font-size="13.8" font-weight="normal" text-anchor="start" font-style="normal" fill="#000" textLength="23.90" lengthAdjust="spacingAndGlyphs" >SIM</text>
<rect x="542.40" y="549.40" width="20.40" height="5.50" fill="#ffa0a0" stroke="#000" stroke-width="2.0"/>
<text transform="translate(574.70 556.60)" font-size="13.8" font-weight="normal" text-anchor="start" font-style="normal" fill="#000" textLength="49.40" lengthAdjust="spacingAndGlyphs" >BTS 30</text>
<rect x="633.20" y="549.40" width="20.40" height="5.50" fill="#ff3d3d" stroke="#000" stroke-width="2.0"/>
<text transform="translate(666.00 556.60)" font-size="13.8" font-weight="normal" text-anchor="start" font-style="normal" fill="#000" textLength="58.30" lengthAdjust="spacingAndGlyphs" >BTS 100</text>
<rect x="732.20" y="549.40" width="20.40" height="5.50" fill="#c00000" stroke="#000" stroke-width="2.0"/>
<text transform="translate(765.80 556.60)" font-size="13.8" font-weight="normal" text-anchor="start" font-style="normal" fill="#000" textLength="57.70" lengthAdjust="spacingAndGlyphs" >BTS 300</text>
</svg>
</body></html>
